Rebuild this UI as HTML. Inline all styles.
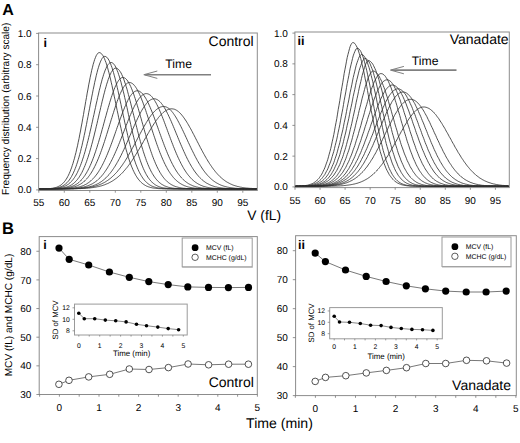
<!DOCTYPE html>
<html><head><meta charset="utf-8"><style>
html,body{margin:0;padding:0;background:#fff;}
svg{display:block;font-family:"Liberation Sans", sans-serif;text-rendering:geometricPrecision;}
</style></head><body>
<svg width="520" height="443" viewBox="0 0 520 443">
<rect width="520" height="443" fill="#fff"/>
<rect x="38.60" y="33.00" width="218.70" height="157.50" stroke="#8c8c8c" stroke-width="1" fill="none"/>
<line x1="36.10" y1="189.90" x2="38.60" y2="189.90" stroke="#777" stroke-width="0.8"/>
<text x="31.60" y="193.40" font-size="10.0" text-anchor="end">0.0</text>
<line x1="36.10" y1="158.60" x2="38.60" y2="158.60" stroke="#777" stroke-width="0.8"/>
<text x="31.60" y="162.10" font-size="10.0" text-anchor="end">0.2</text>
<line x1="36.10" y1="127.30" x2="38.60" y2="127.30" stroke="#777" stroke-width="0.8"/>
<text x="31.60" y="130.80" font-size="10.0" text-anchor="end">0.4</text>
<line x1="36.10" y1="96.00" x2="38.60" y2="96.00" stroke="#777" stroke-width="0.8"/>
<text x="31.60" y="99.50" font-size="10.0" text-anchor="end">0.6</text>
<line x1="36.10" y1="64.70" x2="38.60" y2="64.70" stroke="#777" stroke-width="0.8"/>
<text x="31.60" y="68.20" font-size="10.0" text-anchor="end">0.8</text>
<line x1="36.10" y1="33.40" x2="38.60" y2="33.40" stroke="#777" stroke-width="0.8"/>
<text x="31.60" y="36.90" font-size="10.0" text-anchor="end">1.0</text>
<line x1="38.80" y1="190.50" x2="38.80" y2="192.70" stroke="#777" stroke-width="0.8"/>
<text x="38.80" y="206.30" font-size="10.0" text-anchor="middle">55</text>
<line x1="64.30" y1="190.50" x2="64.30" y2="192.70" stroke="#777" stroke-width="0.8"/>
<text x="64.30" y="206.30" font-size="10.0" text-anchor="middle">60</text>
<line x1="89.80" y1="190.50" x2="89.80" y2="192.70" stroke="#777" stroke-width="0.8"/>
<text x="89.80" y="206.30" font-size="10.0" text-anchor="middle">65</text>
<line x1="115.30" y1="190.50" x2="115.30" y2="192.70" stroke="#777" stroke-width="0.8"/>
<text x="115.30" y="206.30" font-size="10.0" text-anchor="middle">70</text>
<line x1="140.80" y1="190.50" x2="140.80" y2="192.70" stroke="#777" stroke-width="0.8"/>
<text x="140.80" y="206.30" font-size="10.0" text-anchor="middle">75</text>
<line x1="166.30" y1="190.50" x2="166.30" y2="192.70" stroke="#777" stroke-width="0.8"/>
<text x="166.30" y="206.30" font-size="10.0" text-anchor="middle">80</text>
<line x1="191.80" y1="190.50" x2="191.80" y2="192.70" stroke="#777" stroke-width="0.8"/>
<text x="191.80" y="206.30" font-size="10.0" text-anchor="middle">85</text>
<line x1="217.30" y1="190.50" x2="217.30" y2="192.70" stroke="#777" stroke-width="0.8"/>
<text x="217.30" y="206.30" font-size="10.0" text-anchor="middle">90</text>
<line x1="242.80" y1="190.50" x2="242.80" y2="192.70" stroke="#777" stroke-width="0.8"/>
<text x="242.80" y="206.30" font-size="10.0" text-anchor="middle">95</text>
<path d="M39.2,188.9 40.0,188.9 40.7,188.9 41.5,188.9 42.2,188.8 43.0,188.8 43.7,188.8 44.5,188.8 45.2,188.8 46.0,188.8 46.7,188.7 47.5,188.7 48.2,188.6 49.0,188.6 49.7,188.5 50.5,188.5 51.2,188.4 52.0,188.3 52.7,188.2 53.5,188.0 54.2,187.9 55.0,187.7 55.7,187.5 56.5,187.3 57.2,187.0 58.0,186.7 58.7,186.3 59.5,185.9 60.2,185.5 61.0,185.0 61.7,184.4 62.5,183.7 63.2,183.0 64.0,182.2 64.7,181.3 65.5,180.3 66.2,179.2 67.0,178.0 67.7,176.6 68.5,175.2 69.2,173.6 70.0,171.8 70.7,169.9 71.5,167.9 72.2,165.7 73.0,163.3 73.7,160.8 74.5,158.2 75.2,155.3 76.0,152.3 76.7,149.1 77.5,145.8 78.2,142.3 79.0,138.7 79.7,134.9 80.5,131.0 81.2,127.0 82.0,122.9 82.7,118.8 83.5,114.5 84.2,110.2 85.0,105.9 85.7,101.6 86.5,97.4 87.2,93.1 88.0,89.0 88.7,84.9 89.5,81.0 90.2,77.3 91.0,73.7 91.7,70.3 92.5,67.2 93.2,64.3 94.0,61.7 94.7,59.4 95.5,57.4 96.2,55.7 97.0,54.4 97.7,53.4 98.5,52.8 99.2,52.6 100.0,52.7 100.7,53.1 101.5,53.7 102.2,54.6 103.0,55.7 103.7,57.1 104.5,58.7 105.2,60.6 106.0,62.6 106.7,64.9 107.5,67.4 108.2,70.1 109.0,72.9 109.7,75.9 110.5,79.0 111.2,82.2 112.0,85.6 112.7,89.0 113.5,92.5 114.2,96.1 115.0,99.7 115.7,103.3 116.5,107.0 117.2,110.6 118.0,114.2 118.7,117.8 119.5,121.4 120.2,124.9 121.0,128.3 121.7,131.7 122.5,135.0 123.2,138.2 124.0,141.3 124.7,144.3 125.5,147.1 126.2,149.9 127.0,152.6 127.7,155.1 128.4,157.6 129.2,159.9 129.9,162.1 130.7,164.1 131.4,166.1 132.2,167.9 132.9,169.7 133.7,171.3 134.4,172.8 135.2,174.2 135.9,175.6 136.7,176.8 137.4,177.9 138.2,179.0 138.9,179.9 139.7,180.8 140.4,181.6 141.2,182.4 141.9,183.0 142.7,183.7 143.4,184.2 144.2,184.7 144.9,185.2 145.7,185.6 146.4,186.0 147.2,186.3 147.9,186.6 148.7,186.9 149.4,187.1 150.2,187.4 150.9,187.6 151.7,187.7 152.4,187.9 153.2,188.0 153.9,188.1 154.7,188.2 155.4,188.3 156.2,188.4 156.9,188.5 157.7,188.5 158.4,188.6 159.2,188.6 159.9,188.7 160.7,188.7 161.4,188.7 162.2,188.8 162.9,188.8 163.7,188.8 164.4,188.8 165.2,188.8 165.9,188.8 166.7,188.8 167.4,188.9 168.2,188.9 168.9,188.9 169.7,188.9 170.4,188.9 171.2,188.9 171.9,188.9 172.7,188.9 173.4,188.9 174.2,188.9 174.9,188.9 175.7,188.9 176.4,188.9 177.2,188.9 177.9,188.9 178.7,188.9 179.4,188.9 180.2,188.9 180.9,188.9 181.7,188.9 182.4,188.9 183.2,188.9 183.9,188.9 184.7,188.9 185.4,188.9 186.2,188.9 186.9,188.9 187.7,188.9 188.4,188.9 189.2,188.9 189.9,188.9 190.7,188.9 191.4,188.9 192.2,188.9 192.9,188.9 193.7,188.9 194.4,188.9 195.2,188.9 195.9,188.9 196.7,188.9 197.4,188.9 198.2,188.9 198.9,188.9 199.7,188.9 200.4,188.9 201.2,188.9 201.9,188.9 202.7,188.9 203.4,188.9 204.2,188.9 204.9,188.9 205.7,188.9 206.4,188.9 207.2,188.9 207.9,188.9 208.7,188.9 209.4,188.9 210.2,188.9 210.9,188.9 211.7,188.9 212.4,188.9 213.2,188.9 213.9,188.9 214.7,188.9 215.4,188.9 216.2,188.9 216.9,188.9 217.7,188.9 218.4,188.9 219.2,188.9 219.9,188.9 220.7,188.9 221.4,188.9 222.2,188.9 222.9,188.9 223.7,188.9 224.4,188.9 225.2,188.9 225.9,188.9 226.7,188.9 227.4,188.9 228.2,188.9 228.9,188.9 229.7,188.9 230.4,188.9 231.2,188.9 231.9,188.9 232.7,188.9 233.4,188.9 234.2,188.9 234.9,188.9 235.7,188.9 236.4,188.9 237.2,188.9 237.9,188.9 238.7,188.9 239.4,188.9 240.2,188.9 240.9,188.9 241.7,188.9 242.4,188.9 243.2,188.9 243.9,188.9 244.7,188.9 245.4,188.9 246.2,188.9 246.9,188.9 247.7,188.9 248.4,188.9 249.2,188.9 249.9,188.9 250.7,188.9 251.4,188.9 252.2,188.9 252.9,188.9 253.7,188.9 254.4,188.9 255.2,188.9 255.9,188.9 256.7,188.9" stroke="#303030" stroke-width="0.85" fill="none" stroke-linejoin="round"/>
<path d="M39.2,188.9 40.0,188.9 40.7,188.9 41.5,188.9 42.2,188.9 43.0,188.9 43.7,188.9 44.5,188.8 45.2,188.8 46.0,188.8 46.7,188.8 47.5,188.8 48.2,188.8 49.0,188.7 49.7,188.7 50.5,188.7 51.2,188.6 52.0,188.6 52.7,188.5 53.5,188.4 54.2,188.3 55.0,188.2 55.7,188.1 56.5,188.0 57.2,187.9 58.0,187.7 58.7,187.5 59.5,187.3 60.2,187.0 61.0,186.7 61.7,186.4 62.5,186.0 63.2,185.6 64.0,185.1 64.7,184.6 65.5,184.0 66.2,183.4 67.0,182.7 67.7,181.9 68.5,181.0 69.2,180.1 70.0,179.0 70.7,177.8 71.5,176.6 72.2,175.2 73.0,173.7 73.7,172.1 74.5,170.4 75.2,168.5 76.0,166.5 76.7,164.4 77.5,162.1 78.2,159.7 79.0,157.1 79.7,154.4 80.5,151.6 81.2,148.6 82.0,145.5 82.7,142.2 83.5,138.9 84.2,135.4 85.0,131.8 85.7,128.1 86.5,124.4 87.2,120.5 88.0,116.6 88.7,112.7 89.5,108.8 90.2,104.9 91.0,100.9 91.7,97.1 92.5,93.2 93.2,89.5 94.0,85.9 94.7,82.3 95.5,79.0 96.2,75.8 97.0,72.7 97.7,69.9 98.5,67.3 99.2,65.0 100.0,62.9 100.7,61.1 101.5,59.5 102.2,58.3 103.0,57.4 103.7,56.7 104.5,56.4 105.2,56.4 106.0,56.7 106.7,57.2 107.5,58.0 108.2,59.0 109.0,60.3 109.7,61.8 110.5,63.5 111.2,65.5 112.0,67.6 112.7,70.0 113.5,72.5 114.2,75.2 115.0,78.0 115.7,81.0 116.5,84.1 117.2,87.3 118.0,90.7 118.7,94.0 119.5,97.5 120.2,101.0 121.0,104.5 121.7,108.1 122.5,111.6 123.2,115.1 124.0,118.6 124.7,122.1 125.5,125.5 126.2,128.9 127.0,132.2 127.7,135.4 128.4,138.6 129.2,141.6 129.9,144.5 130.7,147.4 131.4,150.1 132.2,152.7 132.9,155.3 133.7,157.7 134.4,159.9 135.2,162.1 135.9,164.2 136.7,166.1 137.4,167.9 138.2,169.7 138.9,171.3 139.7,172.8 140.4,174.2 141.2,175.5 141.9,176.7 142.7,177.9 143.4,178.9 144.2,179.9 144.9,180.8 145.7,181.6 146.4,182.3 147.2,183.0 147.9,183.6 148.7,184.2 149.4,184.7 150.2,185.2 150.9,185.6 151.7,186.0 152.4,186.3 153.2,186.6 153.9,186.9 154.7,187.1 155.4,187.3 156.2,187.5 156.9,187.7 157.7,187.9 158.4,188.0 159.2,188.1 159.9,188.2 160.7,188.3 161.4,188.4 162.2,188.5 162.9,188.5 163.7,188.6 164.4,188.6 165.2,188.7 165.9,188.7 166.7,188.7 167.4,188.8 168.2,188.8 168.9,188.8 169.7,188.8 170.4,188.8 171.2,188.8 171.9,188.8 172.7,188.9 173.4,188.9 174.2,188.9 174.9,188.9 175.7,188.9 176.4,188.9 177.2,188.9 177.9,188.9 178.7,188.9 179.4,188.9 180.2,188.9 180.9,188.9 181.7,188.9 182.4,188.9 183.2,188.9 183.9,188.9 184.7,188.9 185.4,188.9 186.2,188.9 186.9,188.9 187.7,188.9 188.4,188.9 189.2,188.9 189.9,188.9 190.7,188.9 191.4,188.9 192.2,188.9 192.9,188.9 193.7,188.9 194.4,188.9 195.2,188.9 195.9,188.9 196.7,188.9 197.4,188.9 198.2,188.9 198.9,188.9 199.7,188.9 200.4,188.9 201.2,188.9 201.9,188.9 202.7,188.9 203.4,188.9 204.2,188.9 204.9,188.9 205.7,188.9 206.4,188.9 207.2,188.9 207.9,188.9 208.7,188.9 209.4,188.9 210.2,188.9 210.9,188.9 211.7,188.9 212.4,188.9 213.2,188.9 213.9,188.9 214.7,188.9 215.4,188.9 216.2,188.9 216.9,188.9 217.7,188.9 218.4,188.9 219.2,188.9 219.9,188.9 220.7,188.9 221.4,188.9 222.2,188.9 222.9,188.9 223.7,188.9 224.4,188.9 225.2,188.9 225.9,188.9 226.7,188.9 227.4,188.9 228.2,188.9 228.9,188.9 229.7,188.9 230.4,188.9 231.2,188.9 231.9,188.9 232.7,188.9 233.4,188.9 234.2,188.9 234.9,188.9 235.7,188.9 236.4,188.9 237.2,188.9 237.9,188.9 238.7,188.9 239.4,188.9 240.2,188.9 240.9,188.9 241.7,188.9 242.4,188.9 243.2,188.9 243.9,188.9 244.7,188.9 245.4,188.9 246.2,188.9 246.9,188.9 247.7,188.9 248.4,188.9 249.2,188.9 249.9,188.9 250.7,188.9 251.4,188.9 252.2,188.9 252.9,188.9 253.7,188.9 254.4,188.9 255.2,188.9 255.9,188.9 256.7,188.9" stroke="#303030" stroke-width="0.85" fill="none" stroke-linejoin="round"/>
<path d="M39.2,188.9 40.0,188.9 40.7,188.9 41.5,188.9 42.2,188.9 43.0,188.9 43.7,188.9 44.5,188.9 45.2,188.8 46.0,188.8 46.7,188.8 47.5,188.8 48.2,188.8 49.0,188.8 49.7,188.8 50.5,188.7 51.2,188.7 52.0,188.7 52.7,188.6 53.5,188.6 54.2,188.5 55.0,188.5 55.7,188.4 56.5,188.3 57.2,188.2 58.0,188.1 58.7,188.0 59.5,187.8 60.2,187.7 61.0,187.5 61.7,187.3 62.5,187.1 63.2,186.8 64.0,186.6 64.7,186.2 65.5,185.9 66.2,185.5 67.0,185.1 67.7,184.6 68.5,184.1 69.2,183.5 70.0,182.8 70.7,182.1 71.5,181.4 72.2,180.5 73.0,179.6 73.7,178.6 74.5,177.5 75.2,176.4 76.0,175.1 76.7,173.8 77.5,172.3 78.2,170.7 79.0,169.1 79.7,167.3 80.5,165.4 81.2,163.5 82.0,161.3 82.7,159.1 83.5,156.8 84.2,154.4 85.0,151.8 85.7,149.1 86.5,146.4 87.2,143.5 88.0,140.5 88.7,137.5 89.5,134.4 90.2,131.1 91.0,127.9 91.7,124.5 92.5,121.1 93.2,117.7 94.0,114.3 94.7,110.9 95.5,107.4 96.2,104.0 97.0,100.6 97.7,97.3 98.5,94.0 99.2,90.8 100.0,87.8 100.7,84.8 101.5,81.9 102.2,79.2 103.0,76.7 103.7,74.3 104.5,72.1 105.2,70.1 106.0,68.4 106.7,66.8 107.5,65.5 108.2,64.4 109.0,63.5 109.7,62.9 110.5,62.6 111.2,62.5 112.0,62.7 112.7,63.1 113.5,63.7 114.2,64.6 115.0,65.7 115.7,67.1 116.5,68.7 117.2,70.5 118.0,72.5 118.7,74.7 119.5,77.0 120.2,79.6 121.0,82.2 121.7,85.1 122.5,88.0 123.2,91.1 124.0,94.2 124.7,97.5 125.5,100.8 126.2,104.1 127.0,107.5 127.7,110.9 128.4,114.3 129.2,117.7 129.9,121.0 130.7,124.4 131.4,127.7 132.2,130.9 132.9,134.1 133.7,137.2 134.4,140.2 135.2,143.2 135.9,146.0 136.7,148.8 137.4,151.4 138.2,154.0 138.9,156.4 139.7,158.7 140.4,160.9 141.2,163.0 141.9,165.0 142.7,166.9 143.4,168.7 144.2,170.3 144.9,171.9 145.7,173.4 146.4,174.7 147.2,176.0 147.9,177.2 148.7,178.3 149.4,179.3 150.2,180.2 150.9,181.1 151.7,181.8 152.4,182.6 153.2,183.2 153.9,183.8 154.7,184.4 155.4,184.9 156.2,185.3 156.9,185.7 157.7,186.1 158.4,186.4 159.2,186.7 159.9,187.0 160.7,187.2 161.4,187.4 162.2,187.6 162.9,187.8 163.7,187.9 164.4,188.0 165.2,188.1 165.9,188.2 166.7,188.3 167.4,188.4 168.2,188.5 168.9,188.5 169.7,188.6 170.4,188.6 171.2,188.7 171.9,188.7 172.7,188.7 173.4,188.8 174.2,188.8 174.9,188.8 175.7,188.8 176.4,188.8 177.2,188.8 177.9,188.8 178.7,188.9 179.4,188.9 180.2,188.9 180.9,188.9 181.7,188.9 182.4,188.9 183.2,188.9 183.9,188.9 184.7,188.9 185.4,188.9 186.2,188.9 186.9,188.9 187.7,188.9 188.4,188.9 189.2,188.9 189.9,188.9 190.7,188.9 191.4,188.9 192.2,188.9 192.9,188.9 193.7,188.9 194.4,188.9 195.2,188.9 195.9,188.9 196.7,188.9 197.4,188.9 198.2,188.9 198.9,188.9 199.7,188.9 200.4,188.9 201.2,188.9 201.9,188.9 202.7,188.9 203.4,188.9 204.2,188.9 204.9,188.9 205.7,188.9 206.4,188.9 207.2,188.9 207.9,188.9 208.7,188.9 209.4,188.9 210.2,188.9 210.9,188.9 211.7,188.9 212.4,188.9 213.2,188.9 213.9,188.9 214.7,188.9 215.4,188.9 216.2,188.9 216.9,188.9 217.7,188.9 218.4,188.9 219.2,188.9 219.9,188.9 220.7,188.9 221.4,188.9 222.2,188.9 222.9,188.9 223.7,188.9 224.4,188.9 225.2,188.9 225.9,188.9 226.7,188.9 227.4,188.9 228.2,188.9 228.9,188.9 229.7,188.9 230.4,188.9 231.2,188.9 231.9,188.9 232.7,188.9 233.4,188.9 234.2,188.9 234.9,188.9 235.7,188.9 236.4,188.9 237.2,188.9 237.9,188.9 238.7,188.9 239.4,188.9 240.2,188.9 240.9,188.9 241.7,188.9 242.4,188.9 243.2,188.9 243.9,188.9 244.7,188.9 245.4,188.9 246.2,188.9 246.9,188.9 247.7,188.9 248.4,188.9 249.2,188.9 249.9,188.9 250.7,188.9 251.4,188.9 252.2,188.9 252.9,188.9 253.7,188.9 254.4,188.9 255.2,188.9 255.9,188.9 256.7,188.9" stroke="#303030" stroke-width="0.85" fill="none" stroke-linejoin="round"/>
<path d="M39.2,188.9 40.0,188.9 40.7,188.9 41.5,188.9 42.2,188.9 43.0,188.9 43.7,188.9 44.5,188.9 45.2,188.9 46.0,188.9 46.7,188.9 47.5,188.9 48.2,188.9 49.0,188.8 49.7,188.8 50.5,188.8 51.2,188.8 52.0,188.8 52.7,188.8 53.5,188.8 54.2,188.7 55.0,188.7 55.7,188.7 56.5,188.6 57.2,188.6 58.0,188.5 58.7,188.5 59.5,188.4 60.2,188.3 61.0,188.2 61.7,188.1 62.5,188.0 63.2,187.9 64.0,187.7 64.7,187.6 65.5,187.4 66.2,187.2 67.0,187.0 67.7,186.7 68.5,186.4 69.2,186.1 70.0,185.7 70.7,185.3 71.5,184.9 72.2,184.4 73.0,183.9 73.7,183.3 74.5,182.6 75.2,181.9 76.0,181.2 76.7,180.3 77.5,179.4 78.2,178.4 79.0,177.4 79.7,176.2 80.5,175.0 81.2,173.7 82.0,172.3 82.7,170.8 83.5,169.1 84.2,167.4 85.0,165.6 85.7,163.7 86.5,161.7 87.2,159.6 88.0,157.3 88.7,155.0 89.5,152.6 90.2,150.0 91.0,147.4 91.7,144.7 92.5,141.9 93.2,139.0 94.0,136.0 94.7,133.0 95.5,129.9 96.2,126.8 97.0,123.6 97.7,120.4 98.5,117.1 99.2,113.9 100.0,110.7 100.7,107.5 101.5,104.3 102.2,101.2 103.0,98.1 103.7,95.1 104.5,92.2 105.2,89.4 106.0,86.8 106.7,84.2 107.5,81.8 108.2,79.6 109.0,77.5 109.7,75.6 110.5,73.9 111.2,72.4 112.0,71.2 112.7,70.1 113.5,69.2 114.2,68.6 115.0,68.3 115.7,68.1 116.5,68.2 117.2,68.5 118.0,69.0 118.7,69.7 119.5,70.6 120.2,71.7 121.0,72.9 121.7,74.4 122.5,76.1 123.2,77.9 124.0,79.9 124.7,82.0 125.5,84.3 126.2,86.7 127.0,89.2 127.7,91.8 128.4,94.5 129.2,97.3 129.9,100.2 130.7,103.1 131.4,106.1 132.2,109.1 132.9,112.2 133.7,115.2 134.4,118.3 135.2,121.3 135.9,124.3 136.7,127.3 137.4,130.3 138.2,133.2 138.9,136.1 139.7,138.9 140.4,141.6 141.2,144.3 141.9,146.9 142.7,149.4 143.4,151.8 144.2,154.1 144.9,156.3 145.7,158.5 146.4,160.6 147.2,162.5 147.9,164.4 148.7,166.2 149.4,167.9 150.2,169.4 150.9,171.0 151.7,172.4 152.4,173.7 153.2,174.9 153.9,176.1 154.7,177.2 155.4,178.2 156.2,179.2 156.9,180.0 157.7,180.9 158.4,181.6 159.2,182.3 159.9,182.9 160.7,183.5 161.4,184.1 162.2,184.5 162.9,185.0 163.7,185.4 164.4,185.8 165.2,186.1 165.9,186.4 166.7,186.7 167.4,186.9 168.2,187.2 168.9,187.4 169.7,187.5 170.4,187.7 171.2,187.8 171.9,188.0 172.7,188.1 173.4,188.2 174.2,188.3 174.9,188.4 175.7,188.4 176.4,188.5 177.2,188.5 177.9,188.6 178.7,188.6 179.4,188.7 180.2,188.7 180.9,188.7 181.7,188.8 182.4,188.8 183.2,188.8 183.9,188.8 184.7,188.8 185.4,188.8 186.2,188.8 186.9,188.9 187.7,188.9 188.4,188.9 189.2,188.9 189.9,188.9 190.7,188.9 191.4,188.9 192.2,188.9 192.9,188.9 193.7,188.9 194.4,188.9 195.2,188.9 195.9,188.9 196.7,188.9 197.4,188.9 198.2,188.9 198.9,188.9 199.7,188.9 200.4,188.9 201.2,188.9 201.9,188.9 202.7,188.9 203.4,188.9 204.2,188.9 204.9,188.9 205.7,188.9 206.4,188.9 207.2,188.9 207.9,188.9 208.7,188.9 209.4,188.9 210.2,188.9 210.9,188.9 211.7,188.9 212.4,188.9 213.2,188.9 213.9,188.9 214.7,188.9 215.4,188.9 216.2,188.9 216.9,188.9 217.7,188.9 218.4,188.9 219.2,188.9 219.9,188.9 220.7,188.9 221.4,188.9 222.2,188.9 222.9,188.9 223.7,188.9 224.4,188.9 225.2,188.9 225.9,188.9 226.7,188.9 227.4,188.9 228.2,188.9 228.9,188.9 229.7,188.9 230.4,188.9 231.2,188.9 231.9,188.9 232.7,188.9 233.4,188.9 234.2,188.9 234.9,188.9 235.7,188.9 236.4,188.9 237.2,188.9 237.9,188.9 238.7,188.9 239.4,188.9 240.2,188.9 240.9,188.9 241.7,188.9 242.4,188.9 243.2,188.9 243.9,188.9 244.7,188.9 245.4,188.9 246.2,188.9 246.9,188.9 247.7,188.9 248.4,188.9 249.2,188.9 249.9,188.9 250.7,188.9 251.4,188.9 252.2,188.9 252.9,188.9 253.7,188.9 254.4,188.9 255.2,188.9 255.9,188.9 256.7,188.9" stroke="#303030" stroke-width="0.85" fill="none" stroke-linejoin="round"/>
<path d="M39.2,188.9 40.0,188.9 40.7,188.9 41.5,188.9 42.2,188.9 43.0,188.9 43.7,188.9 44.5,188.9 45.2,188.9 46.0,188.9 46.7,188.9 47.5,188.9 48.2,188.9 49.0,188.9 49.7,188.9 50.5,188.8 51.2,188.8 52.0,188.8 52.7,188.8 53.5,188.8 54.2,188.8 55.0,188.8 55.7,188.7 56.5,188.7 57.2,188.7 58.0,188.7 58.7,188.6 59.5,188.6 60.2,188.5 61.0,188.5 61.7,188.4 62.5,188.4 63.2,188.3 64.0,188.2 64.7,188.1 65.5,188.0 66.2,187.9 67.0,187.7 67.7,187.6 68.5,187.4 69.2,187.3 70.0,187.0 70.7,186.8 71.5,186.6 72.2,186.3 73.0,186.0 73.7,185.7 74.5,185.3 75.2,184.9 76.0,184.5 76.7,184.0 77.5,183.5 78.2,182.9 79.0,182.3 79.7,181.6 80.5,180.9 81.2,180.1 82.0,179.3 82.7,178.4 83.5,177.4 84.2,176.4 85.0,175.3 85.7,174.1 86.5,172.9 87.2,171.6 88.0,170.2 88.7,168.7 89.5,167.2 90.2,165.5 91.0,163.8 91.7,162.0 92.5,160.2 93.2,158.2 94.0,156.2 94.7,154.0 95.5,151.8 96.2,149.6 97.0,147.2 97.7,144.8 98.5,142.4 99.2,139.9 100.0,137.3 100.7,134.7 101.5,132.0 102.2,129.3 103.0,126.6 103.7,123.9 104.5,121.1 105.2,118.4 106.0,115.7 106.7,113.0 107.5,110.3 108.2,107.7 109.0,105.1 109.7,102.5 110.5,100.1 111.2,97.7 112.0,95.4 112.7,93.2 113.5,91.1 114.2,89.2 115.0,87.3 115.7,85.6 116.5,84.1 117.2,82.7 118.0,81.4 118.7,80.3 119.5,79.4 120.2,78.7 121.0,78.1 121.7,77.7 122.5,77.5 123.2,77.5 124.0,77.7 124.7,78.0 125.5,78.5 126.2,79.2 127.0,80.0 127.7,81.0 128.4,82.2 129.2,83.5 129.9,84.9 130.7,86.5 131.4,88.2 132.2,90.1 132.9,92.0 133.7,94.1 134.4,96.3 135.2,98.6 135.9,100.9 136.7,103.3 137.4,105.8 138.2,108.3 138.9,110.9 139.7,113.5 140.4,116.2 141.2,118.8 141.9,121.5 142.7,124.2 143.4,126.8 144.2,129.5 144.9,132.1 145.7,134.7 146.4,137.2 147.2,139.7 147.9,142.2 148.7,144.6 149.4,146.9 150.2,149.2 150.9,151.4 151.7,153.6 152.4,155.7 153.2,157.7 153.9,159.6 154.7,161.4 155.4,163.2 156.2,164.9 156.9,166.5 157.7,168.1 158.4,169.5 159.2,170.9 159.9,172.3 160.7,173.5 161.4,174.7 162.2,175.8 162.9,176.8 163.7,177.8 164.4,178.7 165.2,179.6 165.9,180.3 166.7,181.1 167.4,181.8 168.2,182.4 168.9,183.0 169.7,183.5 170.4,184.0 171.2,184.5 171.9,184.9 172.7,185.3 173.4,185.7 174.2,186.0 174.9,186.3 175.7,186.6 176.4,186.8 177.2,187.0 177.9,187.2 178.7,187.4 179.4,187.6 180.2,187.7 180.9,187.9 181.7,188.0 182.4,188.1 183.2,188.2 183.9,188.3 184.7,188.3 185.4,188.4 186.2,188.5 186.9,188.5 187.7,188.6 188.4,188.6 189.2,188.6 189.9,188.7 190.7,188.7 191.4,188.7 192.2,188.8 192.9,188.8 193.7,188.8 194.4,188.8 195.2,188.8 195.9,188.8 196.7,188.8 197.4,188.8 198.2,188.9 198.9,188.9 199.7,188.9 200.4,188.9 201.2,188.9 201.9,188.9 202.7,188.9 203.4,188.9 204.2,188.9 204.9,188.9 205.7,188.9 206.4,188.9 207.2,188.9 207.9,188.9 208.7,188.9 209.4,188.9 210.2,188.9 210.9,188.9 211.7,188.9 212.4,188.9 213.2,188.9 213.9,188.9 214.7,188.9 215.4,188.9 216.2,188.9 216.9,188.9 217.7,188.9 218.4,188.9 219.2,188.9 219.9,188.9 220.7,188.9 221.4,188.9 222.2,188.9 222.9,188.9 223.7,188.9 224.4,188.9 225.2,188.9 225.9,188.9 226.7,188.9 227.4,188.9 228.2,188.9 228.9,188.9 229.7,188.9 230.4,188.9 231.2,188.9 231.9,188.9 232.7,188.9 233.4,188.9 234.2,188.9 234.9,188.9 235.7,188.9 236.4,188.9 237.2,188.9 237.9,188.9 238.7,188.9 239.4,188.9 240.2,188.9 240.9,188.9 241.7,188.9 242.4,188.9 243.2,188.9 243.9,188.9 244.7,188.9 245.4,188.9 246.2,188.9 246.9,188.9 247.7,188.9 248.4,188.9 249.2,188.9 249.9,188.9 250.7,188.9 251.4,188.9 252.2,188.9 252.9,188.9 253.7,188.9 254.4,188.9 255.2,188.9 255.9,188.9 256.7,188.9" stroke="#303030" stroke-width="0.85" fill="none" stroke-linejoin="round"/>
<path d="M39.2,188.9 40.0,188.9 40.7,188.9 41.5,188.9 42.2,188.9 43.0,188.9 43.7,188.9 44.5,188.9 45.2,188.9 46.0,188.9 46.7,188.9 47.5,188.9 48.2,188.9 49.0,188.9 49.7,188.9 50.5,188.9 51.2,188.9 52.0,188.9 52.7,188.8 53.5,188.8 54.2,188.8 55.0,188.8 55.7,188.8 56.5,188.8 57.2,188.8 58.0,188.8 58.7,188.7 59.5,188.7 60.2,188.7 61.0,188.7 61.7,188.6 62.5,188.6 63.2,188.5 64.0,188.5 64.7,188.4 65.5,188.4 66.2,188.3 67.0,188.2 67.7,188.1 68.5,188.0 69.2,187.9 70.0,187.8 70.7,187.7 71.5,187.5 72.2,187.4 73.0,187.2 73.7,187.0 74.5,186.8 75.2,186.5 76.0,186.3 76.7,186.0 77.5,185.7 78.2,185.3 79.0,184.9 79.7,184.5 80.5,184.1 81.2,183.6 82.0,183.1 82.7,182.6 83.5,182.0 84.2,181.3 85.0,180.7 85.7,179.9 86.5,179.1 87.2,178.3 88.0,177.4 88.7,176.4 89.5,175.4 90.2,174.4 91.0,173.2 91.7,172.0 92.5,170.8 93.2,169.4 94.0,168.0 94.7,166.5 95.5,165.0 96.2,163.4 97.0,161.7 97.7,160.0 98.5,158.2 99.2,156.3 100.0,154.4 100.7,152.4 101.5,150.3 102.2,148.2 103.0,146.0 103.7,143.8 104.5,141.5 105.2,139.2 106.0,136.8 106.7,134.4 107.5,132.0 108.2,129.6 109.0,127.1 109.7,124.7 110.5,122.2 111.2,119.8 112.0,117.4 112.7,114.9 113.5,112.6 114.2,110.2 115.0,107.9 115.7,105.6 116.5,103.5 117.2,101.3 118.0,99.3 118.7,97.3 119.5,95.5 120.2,93.7 121.0,92.1 121.7,90.5 122.5,89.1 123.2,87.8 124.0,86.6 124.7,85.6 125.5,84.7 126.2,84.0 127.0,83.4 127.7,82.9 128.4,82.7 129.2,82.5 129.9,82.5 130.7,82.7 131.4,83.0 132.2,83.4 132.9,84.0 133.7,84.6 134.4,85.5 135.2,86.4 135.9,87.5 136.7,88.7 137.4,90.0 138.2,91.4 138.9,92.9 139.7,94.6 140.4,96.3 141.2,98.1 141.9,100.0 142.7,101.9 143.4,103.9 144.2,106.0 144.9,108.2 145.7,110.3 146.4,112.6 147.2,114.8 147.9,117.1 148.7,119.4 149.4,121.7 150.2,124.1 150.9,126.4 151.7,128.7 152.4,131.0 153.2,133.3 153.9,135.6 154.7,137.8 155.4,140.0 156.2,142.2 156.9,144.4 157.7,146.5 158.4,148.5 159.2,150.5 159.9,152.5 160.7,154.4 161.4,156.2 162.2,158.0 162.9,159.7 163.7,161.4 164.4,163.0 165.2,164.5 165.9,166.0 166.7,167.4 167.4,168.8 168.2,170.1 168.9,171.3 169.7,172.5 170.4,173.6 171.2,174.6 171.9,175.6 172.7,176.6 173.4,177.5 174.2,178.3 174.9,179.1 175.7,179.9 176.4,180.6 177.2,181.2 177.9,181.8 178.7,182.4 179.4,182.9 180.2,183.4 180.9,183.9 181.7,184.3 182.4,184.7 183.2,185.1 183.9,185.4 184.7,185.8 185.4,186.0 186.2,186.3 186.9,186.6 187.7,186.8 188.4,187.0 189.2,187.2 189.9,187.3 190.7,187.5 191.4,187.6 192.2,187.8 192.9,187.9 193.7,188.0 194.4,188.1 195.2,188.2 195.9,188.3 196.7,188.3 197.4,188.4 198.2,188.4 198.9,188.5 199.7,188.5 200.4,188.6 201.2,188.6 201.9,188.7 202.7,188.7 203.4,188.7 204.2,188.7 204.9,188.8 205.7,188.8 206.4,188.8 207.2,188.8 207.9,188.8 208.7,188.8 209.4,188.8 210.2,188.8 210.9,188.9 211.7,188.9 212.4,188.9 213.2,188.9 213.9,188.9 214.7,188.9 215.4,188.9 216.2,188.9 216.9,188.9 217.7,188.9 218.4,188.9 219.2,188.9 219.9,188.9 220.7,188.9 221.4,188.9 222.2,188.9 222.9,188.9 223.7,188.9 224.4,188.9 225.2,188.9 225.9,188.9 226.7,188.9 227.4,188.9 228.2,188.9 228.9,188.9 229.7,188.9 230.4,188.9 231.2,188.9 231.9,188.9 232.7,188.9 233.4,188.9 234.2,188.9 234.9,188.9 235.7,188.9 236.4,188.9 237.2,188.9 237.9,188.9 238.7,188.9 239.4,188.9 240.2,188.9 240.9,188.9 241.7,188.9 242.4,188.9 243.2,188.9 243.9,188.9 244.7,188.9 245.4,188.9 246.2,188.9 246.9,188.9 247.7,188.9 248.4,188.9 249.2,188.9 249.9,188.9 250.7,188.9 251.4,188.9 252.2,188.9 252.9,188.9 253.7,188.9 254.4,188.9 255.2,188.9 255.9,188.9 256.7,188.9" stroke="#303030" stroke-width="0.85" fill="none" stroke-linejoin="round"/>
<path d="M39.2,188.9 40.0,188.9 40.7,188.9 41.5,188.9 42.2,188.9 43.0,188.9 43.7,188.9 44.5,188.9 45.2,188.9 46.0,188.9 46.7,188.9 47.5,188.9 48.2,188.9 49.0,188.9 49.7,188.9 50.5,188.9 51.2,188.9 52.0,188.9 52.7,188.9 53.5,188.9 54.2,188.9 55.0,188.9 55.7,188.9 56.5,188.8 57.2,188.8 58.0,188.8 58.7,188.8 59.5,188.8 60.2,188.8 61.0,188.8 61.7,188.8 62.5,188.7 63.2,188.7 64.0,188.7 64.7,188.7 65.5,188.6 66.2,188.6 67.0,188.6 67.7,188.5 68.5,188.5 69.2,188.4 70.0,188.4 70.7,188.3 71.5,188.2 72.2,188.2 73.0,188.1 73.7,188.0 74.5,187.9 75.2,187.8 76.0,187.6 76.7,187.5 77.5,187.3 78.2,187.2 79.0,187.0 79.7,186.8 80.5,186.6 81.2,186.3 82.0,186.1 82.7,185.8 83.5,185.5 84.2,185.1 85.0,184.8 85.7,184.4 86.5,184.0 87.2,183.5 88.0,183.0 88.7,182.5 89.5,181.9 90.2,181.3 91.0,180.7 91.7,180.0 92.5,179.3 93.2,178.5 94.0,177.7 94.7,176.9 95.5,175.9 96.2,175.0 97.0,174.0 97.7,172.9 98.5,171.8 99.2,170.6 100.0,169.3 100.7,168.0 101.5,166.7 102.2,165.3 103.0,163.8 103.7,162.3 104.5,160.7 105.2,159.1 106.0,157.4 106.7,155.7 107.5,153.9 108.2,152.0 109.0,150.2 109.7,148.2 110.5,146.3 111.2,144.3 112.0,142.2 112.7,140.2 113.5,138.1 114.2,136.0 115.0,133.8 115.7,131.7 116.5,129.5 117.2,127.4 118.0,125.3 118.7,123.1 119.5,121.0 120.2,118.9 121.0,116.9 121.7,114.9 122.5,112.9 123.2,110.9 124.0,109.1 124.7,107.2 125.5,105.5 126.2,103.8 127.0,102.2 127.7,100.7 128.4,99.3 129.2,98.0 129.9,96.7 130.7,95.6 131.4,94.6 132.2,93.7 132.9,92.9 133.7,92.3 134.4,91.7 135.2,91.3 135.9,91.0 136.7,90.8 137.4,90.8 138.2,90.9 138.9,91.1 139.7,91.4 140.4,91.9 141.2,92.4 141.9,93.1 142.7,93.9 143.4,94.8 144.2,95.9 144.9,97.0 145.7,98.2 146.4,99.5 147.2,100.9 147.9,102.4 148.7,104.0 149.4,105.7 150.2,107.4 150.9,109.2 151.7,111.0 152.4,112.9 153.2,114.9 153.9,116.8 154.7,118.9 155.4,120.9 156.2,123.0 156.9,125.1 157.7,127.2 158.4,129.3 159.2,131.4 159.9,133.5 160.7,135.6 161.4,137.6 162.2,139.7 162.9,141.7 163.7,143.7 164.4,145.7 165.2,147.6 165.9,149.5 166.7,151.4 167.4,153.2 168.2,155.0 168.9,156.7 169.7,158.4 170.4,160.0 171.2,161.6 171.9,163.1 172.7,164.6 173.4,166.0 174.2,167.3 174.9,168.6 175.7,169.9 176.4,171.1 177.2,172.2 177.9,173.3 178.7,174.3 179.4,175.3 180.2,176.2 180.9,177.1 181.7,178.0 182.4,178.7 183.2,179.5 183.9,180.2 184.7,180.8 185.4,181.5 186.2,182.0 186.9,182.6 187.7,183.1 188.4,183.6 189.2,184.0 189.9,184.4 190.7,184.8 191.4,185.1 192.2,185.5 192.9,185.8 193.7,186.1 194.4,186.3 195.2,186.5 195.9,186.8 196.7,187.0 197.4,187.1 198.2,187.3 198.9,187.5 199.7,187.6 200.4,187.7 201.2,187.9 201.9,188.0 202.7,188.1 203.4,188.1 204.2,188.2 204.9,188.3 205.7,188.4 206.4,188.4 207.2,188.5 207.9,188.5 208.7,188.6 209.4,188.6 210.2,188.6 210.9,188.7 211.7,188.7 212.4,188.7 213.2,188.7 213.9,188.8 214.7,188.8 215.4,188.8 216.2,188.8 216.9,188.8 217.7,188.8 218.4,188.8 219.2,188.8 219.9,188.9 220.7,188.9 221.4,188.9 222.2,188.9 222.9,188.9 223.7,188.9 224.4,188.9 225.2,188.9 225.9,188.9 226.7,188.9 227.4,188.9 228.2,188.9 228.9,188.9 229.7,188.9 230.4,188.9 231.2,188.9 231.9,188.9 232.7,188.9 233.4,188.9 234.2,188.9 234.9,188.9 235.7,188.9 236.4,188.9 237.2,188.9 237.9,188.9 238.7,188.9 239.4,188.9 240.2,188.9 240.9,188.9 241.7,188.9 242.4,188.9 243.2,188.9 243.9,188.9 244.7,188.9 245.4,188.9 246.2,188.9 246.9,188.9 247.7,188.9 248.4,188.9 249.2,188.9 249.9,188.9 250.7,188.9 251.4,188.9 252.2,188.9 252.9,188.9 253.7,188.9 254.4,188.9 255.2,188.9 255.9,188.9 256.7,188.9" stroke="#303030" stroke-width="0.85" fill="none" stroke-linejoin="round"/>
<path d="M39.2,188.9 40.0,188.9 40.7,188.9 41.5,188.9 42.2,188.9 43.0,188.9 43.7,188.9 44.5,188.9 45.2,188.9 46.0,188.9 46.7,188.9 47.5,188.9 48.2,188.9 49.0,188.9 49.7,188.9 50.5,188.9 51.2,188.9 52.0,188.9 52.7,188.9 53.5,188.9 54.2,188.9 55.0,188.9 55.7,188.9 56.5,188.9 57.2,188.9 58.0,188.9 58.7,188.9 59.5,188.8 60.2,188.8 61.0,188.8 61.7,188.8 62.5,188.8 63.2,188.8 64.0,188.8 64.7,188.8 65.5,188.8 66.2,188.7 67.0,188.7 67.7,188.7 68.5,188.7 69.2,188.6 70.0,188.6 70.7,188.6 71.5,188.5 72.2,188.5 73.0,188.5 73.7,188.4 74.5,188.4 75.2,188.3 76.0,188.2 76.7,188.1 77.5,188.1 78.2,188.0 79.0,187.9 79.7,187.8 80.5,187.7 81.2,187.5 82.0,187.4 82.7,187.2 83.5,187.1 84.2,186.9 85.0,186.7 85.7,186.5 86.5,186.2 87.2,186.0 88.0,185.7 88.7,185.4 89.5,185.1 90.2,184.8 91.0,184.4 91.7,184.1 92.5,183.7 93.2,183.2 94.0,182.8 94.7,182.3 95.5,181.7 96.2,181.2 97.0,180.6 97.7,179.9 98.5,179.3 99.2,178.5 100.0,177.8 100.7,177.0 101.5,176.2 102.2,175.3 103.0,174.4 103.7,173.4 104.5,172.4 105.2,171.3 106.0,170.2 106.7,169.1 107.5,167.9 108.2,166.6 109.0,165.3 109.7,164.0 110.5,162.6 111.2,161.2 112.0,159.7 112.7,158.2 113.5,156.6 114.2,155.0 115.0,153.3 115.7,151.6 116.5,149.9 117.2,148.2 118.0,146.4 118.7,144.5 119.5,142.7 120.2,140.8 121.0,138.9 121.7,137.0 122.5,135.1 123.2,133.2 124.0,131.2 124.7,129.3 125.5,127.4 126.2,125.4 127.0,123.5 127.7,121.6 128.4,119.8 129.2,117.9 129.9,116.1 130.7,114.4 131.4,112.6 132.2,110.9 132.9,109.3 133.7,107.7 134.4,106.2 135.2,104.8 135.9,103.4 136.7,102.1 137.4,100.9 138.2,99.8 138.9,98.7 139.7,97.8 140.4,96.9 141.2,96.1 141.9,95.5 142.7,94.9 143.4,94.4 144.2,94.1 144.9,93.8 145.7,93.6 146.4,93.6 147.2,93.7 147.9,93.9 148.7,94.2 149.4,94.6 150.2,95.1 150.9,95.7 151.7,96.5 152.4,97.4 153.2,98.3 153.9,99.4 154.7,100.6 155.4,101.8 156.2,103.2 156.9,104.6 157.7,106.1 158.4,107.7 159.2,109.3 159.9,111.1 160.7,112.8 161.4,114.7 162.2,116.5 162.9,118.4 163.7,120.4 164.4,122.3 165.2,124.3 165.9,126.4 166.7,128.4 167.4,130.4 168.2,132.5 168.9,134.5 169.7,136.5 170.4,138.5 171.2,140.5 171.9,142.5 172.7,144.4 173.4,146.4 174.2,148.2 174.9,150.1 175.7,151.9 176.4,153.7 177.2,155.4 177.9,157.1 178.7,158.7 179.4,160.3 180.2,161.8 180.9,163.3 181.7,164.8 182.4,166.1 183.2,167.5 183.9,168.8 184.7,170.0 185.4,171.1 186.2,172.3 186.9,173.3 187.7,174.4 188.4,175.3 189.2,176.2 189.9,177.1 190.7,177.9 191.4,178.7 192.2,179.5 192.9,180.2 193.7,180.8 194.4,181.4 195.2,182.0 195.9,182.5 196.7,183.0 197.4,183.5 198.2,183.9 198.9,184.4 199.7,184.7 200.4,185.1 201.2,185.4 201.9,185.7 202.7,186.0 203.4,186.3 204.2,186.5 204.9,186.7 205.7,186.9 206.4,187.1 207.2,187.3 207.9,187.4 208.7,187.6 209.4,187.7 210.2,187.8 210.9,187.9 211.7,188.0 212.4,188.1 213.2,188.2 213.9,188.3 214.7,188.3 215.4,188.4 216.2,188.5 216.9,188.5 217.7,188.5 218.4,188.6 219.2,188.6 219.9,188.7 220.7,188.7 221.4,188.7 222.2,188.7 222.9,188.8 223.7,188.8 224.4,188.8 225.2,188.8 225.9,188.8 226.7,188.8 227.4,188.8 228.2,188.8 228.9,188.8 229.7,188.9 230.4,188.9 231.2,188.9 231.9,188.9 232.7,188.9 233.4,188.9 234.2,188.9 234.9,188.9 235.7,188.9 236.4,188.9 237.2,188.9 237.9,188.9 238.7,188.9 239.4,188.9 240.2,188.9 240.9,188.9 241.7,188.9 242.4,188.9 243.2,188.9 243.9,188.9 244.7,188.9 245.4,188.9 246.2,188.9 246.9,188.9 247.7,188.9 248.4,188.9 249.2,188.9 249.9,188.9 250.7,188.9 251.4,188.9 252.2,188.9 252.9,188.9 253.7,188.9 254.4,188.9 255.2,188.9 255.9,188.9 256.7,188.9" stroke="#303030" stroke-width="0.85" fill="none" stroke-linejoin="round"/>
<path d="M39.2,188.9 40.0,188.9 40.7,188.9 41.5,188.9 42.2,188.9 43.0,188.9 43.7,188.9 44.5,188.9 45.2,188.9 46.0,188.9 46.7,188.9 47.5,188.9 48.2,188.9 49.0,188.9 49.7,188.9 50.5,188.9 51.2,188.9 52.0,188.9 52.7,188.9 53.5,188.9 54.2,188.9 55.0,188.9 55.7,188.9 56.5,188.9 57.2,188.9 58.0,188.9 58.7,188.9 59.5,188.9 60.2,188.9 61.0,188.9 61.7,188.9 62.5,188.9 63.2,188.8 64.0,188.8 64.7,188.8 65.5,188.8 66.2,188.8 67.0,188.8 67.7,188.8 68.5,188.8 69.2,188.8 70.0,188.7 70.7,188.7 71.5,188.7 72.2,188.7 73.0,188.7 73.7,188.6 74.5,188.6 75.2,188.6 76.0,188.5 76.7,188.5 77.5,188.4 78.2,188.4 79.0,188.3 79.7,188.3 80.5,188.2 81.2,188.1 82.0,188.1 82.7,188.0 83.5,187.9 84.2,187.8 85.0,187.7 85.7,187.6 86.5,187.4 87.2,187.3 88.0,187.1 88.7,187.0 89.5,186.8 90.2,186.6 91.0,186.4 91.7,186.2 92.5,186.0 93.2,185.7 94.0,185.4 94.7,185.1 95.5,184.8 96.2,184.5 97.0,184.1 97.7,183.8 98.5,183.4 99.2,182.9 100.0,182.5 100.7,182.0 101.5,181.5 102.2,180.9 103.0,180.4 103.7,179.8 104.5,179.1 105.2,178.5 106.0,177.8 106.7,177.0 107.5,176.2 108.2,175.4 109.0,174.6 109.7,173.7 110.5,172.7 111.2,171.8 112.0,170.8 112.7,169.7 113.5,168.6 114.2,167.5 115.0,166.3 115.7,165.1 116.5,163.8 117.2,162.5 118.0,161.2 118.7,159.8 119.5,158.4 120.2,157.0 121.0,155.5 121.7,154.0 122.5,152.4 123.2,150.9 124.0,149.3 124.7,147.6 125.5,146.0 126.2,144.3 127.0,142.6 127.7,140.9 128.4,139.2 129.2,137.5 129.9,135.8 130.7,134.0 131.4,132.3 132.2,130.6 132.9,128.8 133.7,127.1 134.4,125.4 135.2,123.7 135.9,122.1 136.7,120.5 137.4,118.9 138.2,117.3 138.9,115.8 139.7,114.3 140.4,112.9 141.2,111.5 141.9,110.2 142.7,108.9 143.4,107.7 144.2,106.5 144.9,105.5 145.7,104.5 146.4,103.5 147.2,102.7 147.9,101.9 148.7,101.2 149.4,100.6 150.2,100.1 150.9,99.7 151.7,99.3 152.4,99.0 153.2,98.9 153.9,98.8 154.7,98.8 155.4,98.9 156.2,99.2 156.9,99.5 157.7,99.9 158.4,100.4 159.2,101.0 159.9,101.7 160.7,102.5 161.4,103.4 162.2,104.4 162.9,105.4 163.7,106.5 164.4,107.8 165.2,109.0 165.9,110.4 166.7,111.8 167.4,113.3 168.2,114.8 168.9,116.4 169.7,118.0 170.4,119.6 171.2,121.3 171.9,123.1 172.7,124.8 173.4,126.6 174.2,128.4 174.9,130.2 175.7,132.1 176.4,133.9 177.2,135.7 177.9,137.5 178.7,139.4 179.4,141.2 180.2,143.0 180.9,144.7 181.7,146.5 182.4,148.2 183.2,149.9 183.9,151.6 184.7,153.2 185.4,154.9 186.2,156.4 186.9,158.0 187.7,159.5 188.4,160.9 189.2,162.3 189.9,163.7 190.7,165.0 191.4,166.3 192.2,167.5 192.9,168.7 193.7,169.9 194.4,171.0 195.2,172.0 195.9,173.0 196.7,174.0 197.4,174.9 198.2,175.8 198.9,176.7 199.7,177.5 200.4,178.2 201.2,178.9 201.9,179.6 202.7,180.3 203.4,180.9 204.2,181.4 204.9,182.0 205.7,182.5 206.4,183.0 207.2,183.4 207.9,183.8 208.7,184.2 209.4,184.6 210.2,184.9 210.9,185.3 211.7,185.6 212.4,185.8 213.2,186.1 213.9,186.3 214.7,186.6 215.4,186.8 216.2,186.9 216.9,187.1 217.7,187.3 218.4,187.4 219.2,187.6 219.9,187.7 220.7,187.8 221.4,187.9 222.2,188.0 222.9,188.1 223.7,188.2 224.4,188.2 225.2,188.3 225.9,188.4 226.7,188.4 227.4,188.5 228.2,188.5 228.9,188.6 229.7,188.6 230.4,188.6 231.2,188.7 231.9,188.7 232.7,188.7 233.4,188.7 234.2,188.7 234.9,188.8 235.7,188.8 236.4,188.8 237.2,188.8 237.9,188.8 238.7,188.8 239.4,188.8 240.2,188.8 240.9,188.9 241.7,188.9 242.4,188.9 243.2,188.9 243.9,188.9 244.7,188.9 245.4,188.9 246.2,188.9 246.9,188.9 247.7,188.9 248.4,188.9 249.2,188.9 249.9,188.9 250.7,188.9 251.4,188.9 252.2,188.9 252.9,188.9 253.7,188.9 254.4,188.9 255.2,188.9 255.9,188.9 256.7,188.9" stroke="#303030" stroke-width="0.85" fill="none" stroke-linejoin="round"/>
<path d="M39.2,188.9 40.0,188.9 40.7,188.9 41.5,188.9 42.2,188.9 43.0,188.9 43.7,188.9 44.5,188.9 45.2,188.9 46.0,188.9 46.7,188.9 47.5,188.9 48.2,188.9 49.0,188.9 49.7,188.9 50.5,188.9 51.2,188.9 52.0,188.9 52.7,188.9 53.5,188.9 54.2,188.9 55.0,188.9 55.7,188.9 56.5,188.9 57.2,188.9 58.0,188.9 58.7,188.9 59.5,188.9 60.2,188.9 61.0,188.9 61.7,188.9 62.5,188.9 63.2,188.8 64.0,188.8 64.7,188.8 65.5,188.8 66.2,188.8 67.0,188.8 67.7,188.8 68.5,188.8 69.2,188.8 70.0,188.8 70.7,188.7 71.5,188.7 72.2,188.7 73.0,188.7 73.7,188.7 74.5,188.6 75.2,188.6 76.0,188.6 76.7,188.6 77.5,188.5 78.2,188.5 79.0,188.4 79.7,188.4 80.5,188.4 81.2,188.3 82.0,188.2 82.7,188.2 83.5,188.1 84.2,188.0 85.0,188.0 85.7,187.9 86.5,187.8 87.2,187.7 88.0,187.6 88.7,187.5 89.5,187.4 90.2,187.2 91.0,187.1 91.7,187.0 92.5,186.8 93.2,186.6 94.0,186.5 94.7,186.3 95.5,186.1 96.2,185.8 97.0,185.6 97.7,185.4 98.5,185.1 99.2,184.8 100.0,184.5 100.7,184.2 101.5,183.9 102.2,183.5 103.0,183.2 103.7,182.8 104.5,182.4 105.2,182.0 106.0,181.5 106.7,181.0 107.5,180.5 108.2,180.0 109.0,179.5 109.7,178.9 110.5,178.3 111.2,177.7 112.0,177.0 112.7,176.3 113.5,175.6 114.2,174.9 115.0,174.1 115.7,173.3 116.5,172.5 117.2,171.6 118.0,170.8 118.7,169.8 119.5,168.9 120.2,167.9 121.0,166.9 121.7,165.9 122.5,164.8 123.2,163.7 124.0,162.6 124.7,161.5 125.5,160.3 126.2,159.1 127.0,157.9 127.7,156.6 128.4,155.3 129.2,154.0 129.9,152.7 130.7,151.4 131.4,150.0 132.2,148.7 132.9,147.3 133.7,145.9 134.4,144.5 135.2,143.1 135.9,141.7 136.7,140.3 137.4,138.8 138.2,137.4 138.9,136.0 139.7,134.6 140.4,133.2 141.2,131.8 141.9,130.4 142.7,129.0 143.4,127.6 144.2,126.3 144.9,125.0 145.7,123.7 146.4,122.4 147.2,121.2 147.9,120.0 148.7,118.9 149.4,117.7 150.2,116.7 150.9,115.6 151.7,114.6 152.4,113.7 153.2,112.8 153.9,112.0 154.7,111.2 155.4,110.5 156.2,109.8 156.9,109.2 157.7,108.6 158.4,108.1 159.2,107.7 159.9,107.3 160.7,107.0 161.4,106.8 162.2,106.6 162.9,106.5 163.7,106.5 164.4,106.5 165.2,106.7 165.9,106.9 166.7,107.2 167.4,107.6 168.2,108.0 168.9,108.6 169.7,109.2 170.4,109.9 171.2,110.7 171.9,111.6 172.7,112.5 173.4,113.5 174.2,114.6 174.9,115.7 175.7,116.9 176.4,118.1 177.2,119.4 177.9,120.8 178.7,122.2 179.4,123.6 180.2,125.1 180.9,126.5 181.7,128.1 182.4,129.6 183.2,131.2 183.9,132.8 184.7,134.4 185.4,136.0 186.2,137.6 186.9,139.2 187.7,140.9 188.4,142.5 189.2,144.1 189.9,145.7 190.7,147.3 191.4,148.9 192.2,150.4 192.9,151.9 193.7,153.4 194.4,154.9 195.2,156.4 195.9,157.8 196.7,159.2 197.4,160.6 198.2,161.9 198.9,163.2 199.7,164.4 200.4,165.7 201.2,166.8 201.9,168.0 202.7,169.1 203.4,170.2 204.2,171.2 204.9,172.2 205.7,173.1 206.4,174.0 207.2,174.9 207.9,175.7 208.7,176.5 209.4,177.3 210.2,178.0 210.9,178.7 211.7,179.4 212.4,180.0 213.2,180.6 213.9,181.2 214.7,181.7 215.4,182.2 216.2,182.7 216.9,183.1 217.7,183.5 218.4,183.9 219.2,184.3 219.9,184.7 220.7,185.0 221.4,185.3 222.2,185.6 222.9,185.8 223.7,186.1 224.4,186.3 225.2,186.5 225.9,186.7 226.7,186.9 227.4,187.1 228.2,187.2 228.9,187.4 229.7,187.5 230.4,187.6 231.2,187.7 231.9,187.9 232.7,187.9 233.4,188.0 234.2,188.1 234.9,188.2 235.7,188.3 236.4,188.3 237.2,188.4 237.9,188.4 238.7,188.5 239.4,188.5 240.2,188.6 240.9,188.6 241.7,188.6 242.4,188.7 243.2,188.7 243.9,188.7 244.7,188.7 245.4,188.7 246.2,188.8 246.9,188.8 247.7,188.8 248.4,188.8 249.2,188.8 249.9,188.8 250.7,188.8 251.4,188.8 252.2,188.8 252.9,188.9 253.7,188.9 254.4,188.9 255.2,188.9 255.9,188.9 256.7,188.9" stroke="#303030" stroke-width="0.85" fill="none" stroke-linejoin="round"/>
<path d="M39.2,188.9 40.0,188.9 40.7,188.9 41.5,188.9 42.2,188.9 43.0,188.9 43.7,188.9 44.5,188.9 45.2,188.9 46.0,188.9 46.7,188.9 47.5,188.9 48.2,188.9 49.0,188.9 49.7,188.9 50.5,188.9 51.2,188.9 52.0,188.9 52.7,188.9 53.5,188.9 54.2,188.9 55.0,188.9 55.7,188.9 56.5,188.9 57.2,188.9 58.0,188.9 58.7,188.9 59.5,188.9 60.2,188.9 61.0,188.9 61.7,188.9 62.5,188.9 63.2,188.9 64.0,188.9 64.7,188.9 65.5,188.9 66.2,188.8 67.0,188.8 67.7,188.8 68.5,188.8 69.2,188.8 70.0,188.8 70.7,188.8 71.5,188.8 72.2,188.8 73.0,188.8 73.7,188.8 74.5,188.7 75.2,188.7 76.0,188.7 76.7,188.7 77.5,188.7 78.2,188.6 79.0,188.6 79.7,188.6 80.5,188.6 81.2,188.5 82.0,188.5 82.7,188.5 83.5,188.4 84.2,188.4 85.0,188.3 85.7,188.3 86.5,188.2 87.2,188.2 88.0,188.1 88.7,188.0 89.5,188.0 90.2,187.9 91.0,187.8 91.7,187.7 92.5,187.6 93.2,187.5 94.0,187.4 94.7,187.3 95.5,187.2 96.2,187.0 97.0,186.9 97.7,186.7 98.5,186.6 99.2,186.4 100.0,186.2 100.7,186.0 101.5,185.8 102.2,185.6 103.0,185.3 103.7,185.1 104.5,184.8 105.2,184.5 106.0,184.2 106.7,183.9 107.5,183.6 108.2,183.3 109.0,182.9 109.7,182.5 110.5,182.1 111.2,181.7 112.0,181.3 112.7,180.8 113.5,180.3 114.2,179.8 115.0,179.3 115.7,178.7 116.5,178.2 117.2,177.6 118.0,177.0 118.7,176.3 119.5,175.6 120.2,174.9 121.0,174.2 121.7,173.5 122.5,172.7 123.2,171.9 124.0,171.1 124.7,170.2 125.5,169.3 126.2,168.4 127.0,167.5 127.7,166.6 128.4,165.6 129.2,164.6 129.9,163.5 130.7,162.5 131.4,161.4 132.2,160.3 132.9,159.2 133.7,158.0 134.4,156.8 135.2,155.7 135.9,154.4 136.7,153.2 137.4,152.0 138.2,150.7 138.9,149.5 139.7,148.2 140.4,146.9 141.2,145.6 141.9,144.3 142.7,143.0 143.4,141.6 144.2,140.3 144.9,139.0 145.7,137.7 146.4,136.4 147.2,135.1 147.9,133.8 148.7,132.5 149.4,131.2 150.2,129.9 150.9,128.7 151.7,127.5 152.4,126.3 153.2,125.1 153.9,123.9 154.7,122.8 155.4,121.7 156.2,120.6 156.9,119.6 157.7,118.6 158.4,117.6 159.2,116.7 159.9,115.9 160.7,115.0 161.4,114.2 162.2,113.5 162.9,112.8 163.7,112.2 164.4,111.6 165.2,111.1 165.9,110.6 166.7,110.2 167.4,109.8 168.2,109.5 168.9,109.2 169.7,109.0 170.4,108.9 171.2,108.8 171.9,108.8 172.7,108.9 173.4,109.0 174.2,109.2 174.9,109.4 175.7,109.8 176.4,110.2 177.2,110.7 177.9,111.2 178.7,111.8 179.4,112.5 180.2,113.2 180.9,114.0 181.7,114.9 182.4,115.8 183.2,116.8 183.9,117.8 184.7,118.9 185.4,120.0 186.2,121.1 186.9,122.3 187.7,123.6 188.4,124.8 189.2,126.2 189.9,127.5 190.7,128.8 191.4,130.2 192.2,131.6 192.9,133.1 193.7,134.5 194.4,135.9 195.2,137.4 195.9,138.9 196.7,140.3 197.4,141.8 198.2,143.2 198.9,144.7 199.7,146.1 200.4,147.6 201.2,149.0 201.9,150.4 202.7,151.8 203.4,153.2 204.2,154.5 204.9,155.9 205.7,157.2 206.4,158.5 207.2,159.7 207.9,161.0 208.7,162.2 209.4,163.4 210.2,164.5 210.9,165.6 211.7,166.7 212.4,167.8 213.2,168.8 213.9,169.8 214.7,170.7 215.4,171.7 216.2,172.6 216.9,173.4 217.7,174.3 218.4,175.0 219.2,175.8 219.9,176.6 220.7,177.3 221.4,177.9 222.2,178.6 222.9,179.2 223.7,179.8 224.4,180.3 225.2,180.9 225.9,181.4 226.7,181.9 227.4,182.3 228.2,182.7 228.9,183.1 229.7,183.5 230.4,183.9 231.2,184.2 231.9,184.6 232.7,184.9 233.4,185.2 234.2,185.4 234.9,185.7 235.7,185.9 236.4,186.1 237.2,186.4 237.9,186.5 238.7,186.7 239.4,186.9 240.2,187.1 240.9,187.2 241.7,187.3 242.4,187.5 243.2,187.6 243.9,187.7 244.7,187.8 245.4,187.9 246.2,188.0 246.9,188.1 247.7,188.1 248.4,188.2 249.2,188.3 249.9,188.3 250.7,188.4 251.4,188.4 252.2,188.5 252.9,188.5 253.7,188.5 254.4,188.6 255.2,188.6 255.9,188.6 256.7,188.7" stroke="#303030" stroke-width="0.85" fill="none" stroke-linejoin="round"/>
<text x="43.60" y="47.00" font-size="12.5" text-anchor="start" font-weight="bold">i</text>
<text x="253.70" y="46.20" font-size="14" text-anchor="end">Control</text>
<text x="165.30" y="68.00" font-size="12.2" text-anchor="start">Time</text>
<line x1="144.80" y1="74.70" x2="211.00" y2="74.70" stroke="#808080" stroke-width="1.6"/>
<path d="M157.3,71.0 143.8,74.7 157.3,78.4" stroke="#808080" stroke-width="1.0" fill="none" stroke-linejoin="round"/>
<rect x="294.90" y="32.00" width="214.40" height="155.60" stroke="#8c8c8c" stroke-width="1" fill="none"/>
<line x1="292.40" y1="186.90" x2="294.90" y2="186.90" stroke="#777" stroke-width="0.8"/>
<text x="287.80" y="190.40" font-size="10.0" text-anchor="end">0.0</text>
<line x1="292.40" y1="156.14" x2="294.90" y2="156.14" stroke="#777" stroke-width="0.8"/>
<text x="287.80" y="159.64" font-size="10.0" text-anchor="end">0.2</text>
<line x1="292.40" y1="125.38" x2="294.90" y2="125.38" stroke="#777" stroke-width="0.8"/>
<text x="287.80" y="128.88" font-size="10.0" text-anchor="end">0.4</text>
<line x1="292.40" y1="94.62" x2="294.90" y2="94.62" stroke="#777" stroke-width="0.8"/>
<text x="287.80" y="98.12" font-size="10.0" text-anchor="end">0.6</text>
<line x1="292.40" y1="63.86" x2="294.90" y2="63.86" stroke="#777" stroke-width="0.8"/>
<text x="287.80" y="67.36" font-size="10.0" text-anchor="end">0.8</text>
<line x1="292.40" y1="33.10" x2="294.90" y2="33.10" stroke="#777" stroke-width="0.8"/>
<text x="287.80" y="36.60" font-size="10.0" text-anchor="end">1.0</text>
<line x1="295.00" y1="187.60" x2="295.00" y2="189.80" stroke="#777" stroke-width="0.8"/>
<text x="295.00" y="203.70" font-size="10.0" text-anchor="middle">55</text>
<line x1="320.05" y1="187.60" x2="320.05" y2="189.80" stroke="#777" stroke-width="0.8"/>
<text x="320.05" y="203.70" font-size="10.0" text-anchor="middle">60</text>
<line x1="345.10" y1="187.60" x2="345.10" y2="189.80" stroke="#777" stroke-width="0.8"/>
<text x="345.10" y="203.70" font-size="10.0" text-anchor="middle">65</text>
<line x1="370.15" y1="187.60" x2="370.15" y2="189.80" stroke="#777" stroke-width="0.8"/>
<text x="370.15" y="203.70" font-size="10.0" text-anchor="middle">70</text>
<line x1="395.20" y1="187.60" x2="395.20" y2="189.80" stroke="#777" stroke-width="0.8"/>
<text x="395.20" y="203.70" font-size="10.0" text-anchor="middle">75</text>
<line x1="420.25" y1="187.60" x2="420.25" y2="189.80" stroke="#777" stroke-width="0.8"/>
<text x="420.25" y="203.70" font-size="10.0" text-anchor="middle">80</text>
<line x1="445.30" y1="187.60" x2="445.30" y2="189.80" stroke="#777" stroke-width="0.8"/>
<text x="445.30" y="203.70" font-size="10.0" text-anchor="middle">85</text>
<line x1="470.35" y1="187.60" x2="470.35" y2="189.80" stroke="#777" stroke-width="0.8"/>
<text x="470.35" y="203.70" font-size="10.0" text-anchor="middle">90</text>
<line x1="495.40" y1="187.60" x2="495.40" y2="189.80" stroke="#777" stroke-width="0.8"/>
<text x="495.40" y="203.70" font-size="10.0" text-anchor="middle">95</text>
<path d="M295.5,186.2 296.2,186.2 297.0,186.2 297.8,186.2 298.5,186.1 299.2,186.1 300.0,186.1 300.8,186.0 301.5,186.0 302.2,185.9 303.0,185.9 303.8,185.8 304.5,185.7 305.2,185.6 306.0,185.5 306.8,185.3 307.5,185.2 308.2,185.0 309.0,184.8 309.8,184.6 310.5,184.3 311.2,184.1 312.0,183.7 312.8,183.4 313.5,183.0 314.2,182.5 315.0,182.0 315.8,181.4 316.5,180.8 317.2,180.1 318.0,179.3 318.8,178.5 319.5,177.5 320.2,176.5 321.0,175.3 321.8,174.1 322.5,172.7 323.2,171.2 324.0,169.6 324.8,167.8 325.5,165.9 326.2,163.9 327.0,161.7 327.8,159.3 328.5,156.8 329.2,154.2 330.0,151.3 330.8,148.3 331.5,145.1 332.2,141.8 333.0,138.3 333.8,134.6 334.5,130.8 335.2,126.8 336.0,122.7 336.8,118.5 337.5,114.1 338.2,109.7 339.0,105.2 339.8,100.6 340.5,96.0 341.2,91.4 342.0,86.8 342.8,82.2 343.5,77.8 344.2,73.4 345.0,69.2 345.8,65.1 346.5,61.2 347.2,57.6 348.0,54.3 348.8,51.3 349.5,48.6 350.2,46.4 351.0,44.6 351.8,43.3 352.5,42.6 353.2,42.6 354.0,42.9 354.8,43.5 355.5,44.5 356.2,45.7 357.0,47.2 357.8,49.0 358.5,51.0 359.2,53.3 360.0,55.9 360.8,58.6 361.5,61.6 362.2,64.7 363.0,68.1 363.8,71.5 364.5,75.2 365.2,78.9 366.0,82.7 366.8,86.6 367.5,90.5 368.2,94.5 369.0,98.5 369.8,102.6 370.5,106.6 371.2,110.5 372.0,114.4 372.8,118.3 373.5,122.1 374.2,125.8 375.0,129.4 375.8,132.9 376.5,136.3 377.2,139.6 378.0,142.8 378.8,145.8 379.5,148.7 380.2,151.5 381.0,154.1 381.8,156.6 382.5,159.0 383.2,161.2 384.0,163.3 384.8,165.2 385.5,167.1 386.2,168.8 387.0,170.4 387.8,171.9 388.5,173.2 389.2,174.5 390.0,175.7 390.8,176.7 391.5,177.7 392.2,178.6 393.0,179.4 393.8,180.2 394.5,180.8 395.2,181.5 396.0,182.0 396.8,182.5 397.5,183.0 398.2,183.4 399.0,183.7 399.8,184.0 400.5,184.3 401.2,184.6 402.0,184.8 402.8,185.0 403.5,185.2 404.2,185.3 405.0,185.4 405.8,185.6 406.5,185.7 407.2,185.8 408.0,185.8 408.8,185.9 409.5,186.0 410.2,186.0 411.0,186.1 411.8,186.1 412.5,186.1 413.2,186.2 414.0,186.2 414.8,186.2 415.5,186.2 416.2,186.2 417.0,186.2 417.8,186.2 418.5,186.3 419.2,186.3 420.0,186.3 420.8,186.3 421.5,186.3 422.2,186.3 423.0,186.3 423.8,186.3 424.5,186.3 425.2,186.3 426.0,186.3 426.8,186.3 427.5,186.3 428.2,186.3 429.0,186.3 429.8,186.3 430.5,186.3 431.2,186.3 432.0,186.3 432.8,186.3 433.5,186.3 434.2,186.3 435.0,186.3 435.8,186.3 436.5,186.3 437.2,186.3 438.0,186.3 438.8,186.3 439.5,186.3 440.2,186.3 441.0,186.3 441.8,186.3 442.5,186.3 443.2,186.3 444.0,186.3 444.8,186.3 445.5,186.3 446.2,186.3 447.0,186.3 447.8,186.3 448.5,186.3 449.2,186.3 450.0,186.3 450.8,186.3 451.5,186.3 452.2,186.3 453.0,186.3 453.8,186.3 454.5,186.3 455.2,186.3 456.0,186.3 456.8,186.3 457.5,186.3 458.2,186.3 459.0,186.3 459.8,186.3 460.5,186.3 461.2,186.3 462.0,186.3 462.8,186.3 463.5,186.3 464.2,186.3 465.0,186.3 465.8,186.3 466.5,186.3 467.2,186.3 468.0,186.3 468.8,186.3 469.5,186.3 470.2,186.3 471.0,186.3 471.8,186.3 472.5,186.3 473.2,186.3 474.0,186.3 474.8,186.3 475.5,186.3 476.2,186.3 477.0,186.3 477.8,186.3 478.5,186.3 479.2,186.3 480.0,186.3 480.8,186.3 481.5,186.3 482.2,186.3 483.0,186.3 483.8,186.3 484.5,186.3 485.2,186.3 486.0,186.3 486.8,186.3 487.5,186.3 488.2,186.3 489.0,186.3 489.8,186.3 490.5,186.3 491.2,186.3 492.0,186.3 492.8,186.3 493.5,186.3 494.2,186.3 495.0,186.3 495.8,186.3 496.5,186.3 497.2,186.3 498.0,186.3 498.8,186.3 499.5,186.3 500.2,186.3 501.0,186.3 501.8,186.3 502.5,186.3 503.2,186.3 504.0,186.3 504.8,186.3 505.5,186.3 506.2,186.3 507.0,186.3 507.8,186.3 508.5,186.3" stroke="#303030" stroke-width="0.85" fill="none" stroke-linejoin="round"/>
<path d="M295.5,186.2 296.2,186.2 297.0,186.2 297.8,186.2 298.5,186.2 299.2,186.2 300.0,186.1 300.8,186.1 301.5,186.1 302.2,186.1 303.0,186.0 303.8,186.0 304.5,185.9 305.2,185.8 306.0,185.8 306.8,185.7 307.5,185.6 308.2,185.5 309.0,185.4 309.8,185.2 310.5,185.1 311.2,184.9 312.0,184.7 312.8,184.5 313.5,184.2 314.2,183.9 315.0,183.6 315.8,183.2 316.5,182.8 317.2,182.4 318.0,181.9 318.8,181.4 319.5,180.7 320.2,180.1 321.0,179.3 321.8,178.5 322.5,177.6 323.2,176.7 324.0,175.6 324.8,174.5 325.5,173.2 326.2,171.8 327.0,170.4 327.8,168.8 328.5,167.0 329.2,165.2 330.0,163.2 330.8,161.1 331.5,158.9 332.2,156.5 333.0,153.9 333.8,151.3 334.5,148.4 335.2,145.5 336.0,142.3 336.8,139.1 337.5,135.7 338.2,132.2 339.0,128.5 339.8,124.7 340.5,120.8 341.2,116.9 342.0,112.8 342.8,108.7 343.5,104.5 344.2,100.3 345.0,96.1 345.8,91.9 346.5,87.7 347.2,83.6 348.0,79.6 348.8,75.6 349.5,71.8 350.2,68.2 351.0,64.8 351.8,61.6 352.5,58.6 353.2,55.9 354.0,53.6 354.8,51.6 355.5,50.0 356.2,48.9 357.0,48.3 357.8,48.3 358.5,48.6 359.2,49.2 360.0,50.2 360.8,51.5 361.5,53.0 362.2,54.8 363.0,56.9 363.8,59.2 364.5,61.8 365.2,64.6 366.0,67.6 366.8,70.8 367.5,74.2 368.2,77.7 369.0,81.3 369.8,85.1 370.5,88.9 371.2,92.8 372.0,96.7 372.8,100.7 373.5,104.7 374.2,108.6 375.0,112.6 375.8,116.5 376.5,120.3 377.2,124.1 378.0,127.8 378.8,131.3 379.5,134.8 380.2,138.2 381.0,141.5 381.8,144.6 382.5,147.6 383.2,150.5 384.0,153.2 384.8,155.8 385.5,158.2 386.2,160.5 387.0,162.7 387.8,164.7 388.5,166.6 389.2,168.4 390.0,170.1 390.8,171.6 391.5,173.0 392.2,174.3 393.0,175.5 393.8,176.7 394.5,177.7 395.2,178.6 396.0,179.4 396.8,180.2 397.5,180.9 398.2,181.5 399.0,182.1 399.8,182.6 400.5,183.0 401.2,183.4 402.0,183.8 402.8,184.1 403.5,184.4 404.2,184.6 405.0,184.9 405.8,185.0 406.5,185.2 407.2,185.4 408.0,185.5 408.8,185.6 409.5,185.7 410.2,185.8 411.0,185.9 411.8,185.9 412.5,186.0 413.2,186.0 414.0,186.1 414.8,186.1 415.5,186.1 416.2,186.2 417.0,186.2 417.8,186.2 418.5,186.2 419.2,186.2 420.0,186.2 420.8,186.3 421.5,186.3 422.2,186.3 423.0,186.3 423.8,186.3 424.5,186.3 425.2,186.3 426.0,186.3 426.8,186.3 427.5,186.3 428.2,186.3 429.0,186.3 429.8,186.3 430.5,186.3 431.2,186.3 432.0,186.3 432.8,186.3 433.5,186.3 434.2,186.3 435.0,186.3 435.8,186.3 436.5,186.3 437.2,186.3 438.0,186.3 438.8,186.3 439.5,186.3 440.2,186.3 441.0,186.3 441.8,186.3 442.5,186.3 443.2,186.3 444.0,186.3 444.8,186.3 445.5,186.3 446.2,186.3 447.0,186.3 447.8,186.3 448.5,186.3 449.2,186.3 450.0,186.3 450.8,186.3 451.5,186.3 452.2,186.3 453.0,186.3 453.8,186.3 454.5,186.3 455.2,186.3 456.0,186.3 456.8,186.3 457.5,186.3 458.2,186.3 459.0,186.3 459.8,186.3 460.5,186.3 461.2,186.3 462.0,186.3 462.8,186.3 463.5,186.3 464.2,186.3 465.0,186.3 465.8,186.3 466.5,186.3 467.2,186.3 468.0,186.3 468.8,186.3 469.5,186.3 470.2,186.3 471.0,186.3 471.8,186.3 472.5,186.3 473.2,186.3 474.0,186.3 474.8,186.3 475.5,186.3 476.2,186.3 477.0,186.3 477.8,186.3 478.5,186.3 479.2,186.3 480.0,186.3 480.8,186.3 481.5,186.3 482.2,186.3 483.0,186.3 483.8,186.3 484.5,186.3 485.2,186.3 486.0,186.3 486.8,186.3 487.5,186.3 488.2,186.3 489.0,186.3 489.8,186.3 490.5,186.3 491.2,186.3 492.0,186.3 492.8,186.3 493.5,186.3 494.2,186.3 495.0,186.3 495.8,186.3 496.5,186.3 497.2,186.3 498.0,186.3 498.8,186.3 499.5,186.3 500.2,186.3 501.0,186.3 501.8,186.3 502.5,186.3 503.2,186.3 504.0,186.3 504.8,186.3 505.5,186.3 506.2,186.3 507.0,186.3 507.8,186.3 508.5,186.3" stroke="#303030" stroke-width="0.85" fill="none" stroke-linejoin="round"/>
<path d="M295.5,186.3 296.2,186.3 297.0,186.2 297.8,186.2 298.5,186.2 299.2,186.2 300.0,186.2 300.8,186.2 301.5,186.2 302.2,186.1 303.0,186.1 303.8,186.1 304.5,186.0 305.2,186.0 306.0,186.0 306.8,185.9 307.5,185.9 308.2,185.8 309.0,185.7 309.8,185.6 310.5,185.5 311.2,185.4 312.0,185.3 312.8,185.1 313.5,185.0 314.2,184.8 315.0,184.6 315.8,184.4 316.5,184.1 317.2,183.8 318.0,183.5 318.8,183.1 319.5,182.7 320.2,182.3 321.0,181.8 321.8,181.3 322.5,180.7 323.2,180.1 324.0,179.4 324.8,178.6 325.5,177.8 326.2,176.9 327.0,175.9 327.8,174.8 328.5,173.6 329.2,172.4 330.0,171.0 330.8,169.5 331.5,168.0 332.2,166.3 333.0,164.5 333.8,162.6 334.5,160.5 335.2,158.3 336.0,156.1 336.8,153.6 337.5,151.1 338.2,148.4 339.0,145.6 339.8,142.7 340.5,139.6 341.2,136.4 342.0,133.1 342.8,129.8 343.5,126.3 344.2,122.7 345.0,119.0 345.8,115.3 346.5,111.5 347.2,107.7 348.0,103.8 348.8,99.9 349.5,96.1 350.2,92.2 351.0,88.5 351.8,84.8 352.5,81.1 353.2,77.6 354.0,74.3 354.8,71.1 355.5,68.1 356.2,65.3 357.0,62.8 357.8,60.5 358.5,58.6 359.2,56.9 360.0,55.7 360.8,54.8 361.5,54.5 362.2,54.6 363.0,55.0 363.8,55.7 364.5,56.7 365.2,57.9 366.0,59.3 366.8,61.0 367.5,62.9 368.2,65.1 369.0,67.4 369.8,70.0 370.5,72.7 371.2,75.6 372.0,78.7 372.8,81.8 373.5,85.1 374.2,88.5 375.0,92.0 375.8,95.5 376.5,99.1 377.2,102.7 378.0,106.4 378.8,110.0 379.5,113.6 380.2,117.2 381.0,120.7 381.8,124.2 382.5,127.7 383.2,131.0 384.0,134.3 384.8,137.5 385.5,140.5 386.2,143.5 387.0,146.4 387.8,149.1 388.5,151.7 389.2,154.3 390.0,156.6 390.8,158.9 391.5,161.1 392.2,163.1 393.0,165.0 393.8,166.8 394.5,168.5 395.2,170.0 396.0,171.5 396.8,172.8 397.5,174.1 398.2,175.3 399.0,176.3 399.8,177.3 400.5,178.2 401.2,179.1 402.0,179.8 402.8,180.5 403.5,181.1 404.2,181.7 405.0,182.2 405.8,182.7 406.5,183.1 407.2,183.5 408.0,183.8 408.8,184.1 409.5,184.4 410.2,184.6 411.0,184.8 411.8,185.0 412.5,185.2 413.2,185.3 414.0,185.5 414.8,185.6 415.5,185.7 416.2,185.8 417.0,185.8 417.8,185.9 418.5,186.0 419.2,186.0 420.0,186.1 420.8,186.1 421.5,186.1 422.2,186.1 423.0,186.2 423.8,186.2 424.5,186.2 425.2,186.2 426.0,186.2 426.8,186.2 427.5,186.3 428.2,186.3 429.0,186.3 429.8,186.3 430.5,186.3 431.2,186.3 432.0,186.3 432.8,186.3 433.5,186.3 434.2,186.3 435.0,186.3 435.8,186.3 436.5,186.3 437.2,186.3 438.0,186.3 438.8,186.3 439.5,186.3 440.2,186.3 441.0,186.3 441.8,186.3 442.5,186.3 443.2,186.3 444.0,186.3 444.8,186.3 445.5,186.3 446.2,186.3 447.0,186.3 447.8,186.3 448.5,186.3 449.2,186.3 450.0,186.3 450.8,186.3 451.5,186.3 452.2,186.3 453.0,186.3 453.8,186.3 454.5,186.3 455.2,186.3 456.0,186.3 456.8,186.3 457.5,186.3 458.2,186.3 459.0,186.3 459.8,186.3 460.5,186.3 461.2,186.3 462.0,186.3 462.8,186.3 463.5,186.3 464.2,186.3 465.0,186.3 465.8,186.3 466.5,186.3 467.2,186.3 468.0,186.3 468.8,186.3 469.5,186.3 470.2,186.3 471.0,186.3 471.8,186.3 472.5,186.3 473.2,186.3 474.0,186.3 474.8,186.3 475.5,186.3 476.2,186.3 477.0,186.3 477.8,186.3 478.5,186.3 479.2,186.3 480.0,186.3 480.8,186.3 481.5,186.3 482.2,186.3 483.0,186.3 483.8,186.3 484.5,186.3 485.2,186.3 486.0,186.3 486.8,186.3 487.5,186.3 488.2,186.3 489.0,186.3 489.8,186.3 490.5,186.3 491.2,186.3 492.0,186.3 492.8,186.3 493.5,186.3 494.2,186.3 495.0,186.3 495.8,186.3 496.5,186.3 497.2,186.3 498.0,186.3 498.8,186.3 499.5,186.3 500.2,186.3 501.0,186.3 501.8,186.3 502.5,186.3 503.2,186.3 504.0,186.3 504.8,186.3 505.5,186.3 506.2,186.3 507.0,186.3 507.8,186.3 508.5,186.3" stroke="#303030" stroke-width="0.85" fill="none" stroke-linejoin="round"/>
<path d="M295.5,186.3 296.2,186.3 297.0,186.3 297.8,186.3 298.5,186.3 299.2,186.2 300.0,186.2 300.8,186.2 301.5,186.2 302.2,186.2 303.0,186.2 303.8,186.2 304.5,186.1 305.2,186.1 306.0,186.1 306.8,186.1 307.5,186.0 308.2,186.0 309.0,185.9 309.8,185.9 310.5,185.8 311.2,185.7 312.0,185.7 312.8,185.6 313.5,185.5 314.2,185.4 315.0,185.2 315.8,185.1 316.5,184.9 317.2,184.7 318.0,184.5 318.8,184.3 319.5,184.0 320.2,183.7 321.0,183.4 321.8,183.1 322.5,182.7 323.2,182.2 324.0,181.8 324.8,181.3 325.5,180.7 326.2,180.1 327.0,179.4 327.8,178.6 328.5,177.8 329.2,176.9 330.0,175.9 330.8,174.9 331.5,173.8 332.2,172.6 333.0,171.2 333.8,169.8 334.5,168.3 335.2,166.7 336.0,165.0 336.8,163.2 337.5,161.2 338.2,159.1 339.0,157.0 339.8,154.7 340.5,152.2 341.2,149.7 342.0,147.0 342.8,144.3 343.5,141.4 344.2,138.4 345.0,135.2 345.8,132.0 346.5,128.7 347.2,125.3 348.0,121.9 348.8,118.3 349.5,114.7 350.2,111.1 351.0,107.4 351.8,103.8 352.5,100.1 353.2,96.4 354.0,92.8 354.8,89.3 355.5,85.8 356.2,82.4 357.0,79.2 357.8,76.0 358.5,73.1 359.2,70.4 360.0,67.8 360.8,65.5 361.5,63.5 362.2,61.8 363.0,60.3 363.8,59.3 364.5,58.7 365.2,58.5 366.0,58.7 366.8,59.2 367.5,59.8 368.2,60.8 369.0,61.9 369.8,63.3 370.5,64.9 371.2,66.7 372.0,68.7 372.8,70.8 373.5,73.2 374.2,75.7 375.0,78.4 375.8,81.2 376.5,84.1 377.2,87.1 378.0,90.3 378.8,93.5 379.5,96.7 380.2,100.0 381.0,103.4 381.8,106.8 382.5,110.1 383.2,113.5 384.0,116.9 384.8,120.2 385.5,123.5 386.2,126.7 387.0,129.9 387.8,133.0 388.5,136.0 389.2,139.0 390.0,141.9 390.8,144.6 391.5,147.3 392.2,149.9 393.0,152.3 393.8,154.7 394.5,156.9 395.2,159.1 396.0,161.1 396.8,163.0 397.5,164.9 398.2,166.6 399.0,168.2 399.8,169.7 400.5,171.1 401.2,172.4 402.0,173.7 402.8,174.8 403.5,175.9 404.2,176.8 405.0,177.7 405.8,178.6 406.5,179.3 407.2,180.0 408.0,180.7 408.8,181.3 409.5,181.8 410.2,182.3 411.0,182.7 411.8,183.1 412.5,183.5 413.2,183.8 414.0,184.1 414.8,184.4 415.5,184.6 416.2,184.8 417.0,185.0 417.8,185.1 418.5,185.3 419.2,185.4 420.0,185.5 420.8,185.6 421.5,185.7 422.2,185.8 423.0,185.9 423.8,185.9 424.5,186.0 425.2,186.0 426.0,186.1 426.8,186.1 427.5,186.1 428.2,186.2 429.0,186.2 429.8,186.2 430.5,186.2 431.2,186.2 432.0,186.2 432.8,186.2 433.5,186.3 434.2,186.3 435.0,186.3 435.8,186.3 436.5,186.3 437.2,186.3 438.0,186.3 438.8,186.3 439.5,186.3 440.2,186.3 441.0,186.3 441.8,186.3 442.5,186.3 443.2,186.3 444.0,186.3 444.8,186.3 445.5,186.3 446.2,186.3 447.0,186.3 447.8,186.3 448.5,186.3 449.2,186.3 450.0,186.3 450.8,186.3 451.5,186.3 452.2,186.3 453.0,186.3 453.8,186.3 454.5,186.3 455.2,186.3 456.0,186.3 456.8,186.3 457.5,186.3 458.2,186.3 459.0,186.3 459.8,186.3 460.5,186.3 461.2,186.3 462.0,186.3 462.8,186.3 463.5,186.3 464.2,186.3 465.0,186.3 465.8,186.3 466.5,186.3 467.2,186.3 468.0,186.3 468.8,186.3 469.5,186.3 470.2,186.3 471.0,186.3 471.8,186.3 472.5,186.3 473.2,186.3 474.0,186.3 474.8,186.3 475.5,186.3 476.2,186.3 477.0,186.3 477.8,186.3 478.5,186.3 479.2,186.3 480.0,186.3 480.8,186.3 481.5,186.3 482.2,186.3 483.0,186.3 483.8,186.3 484.5,186.3 485.2,186.3 486.0,186.3 486.8,186.3 487.5,186.3 488.2,186.3 489.0,186.3 489.8,186.3 490.5,186.3 491.2,186.3 492.0,186.3 492.8,186.3 493.5,186.3 494.2,186.3 495.0,186.3 495.8,186.3 496.5,186.3 497.2,186.3 498.0,186.3 498.8,186.3 499.5,186.3 500.2,186.3 501.0,186.3 501.8,186.3 502.5,186.3 503.2,186.3 504.0,186.3 504.8,186.3 505.5,186.3 506.2,186.3 507.0,186.3 507.8,186.3 508.5,186.3" stroke="#303030" stroke-width="0.85" fill="none" stroke-linejoin="round"/>
<path d="M295.5,186.3 296.2,186.3 297.0,186.3 297.8,186.3 298.5,186.3 299.2,186.3 300.0,186.2 300.8,186.2 301.5,186.2 302.2,186.2 303.0,186.2 303.8,186.2 304.5,186.2 305.2,186.1 306.0,186.1 306.8,186.1 307.5,186.1 308.2,186.0 309.0,186.0 309.8,186.0 310.5,185.9 311.2,185.9 312.0,185.8 312.8,185.7 313.5,185.7 314.2,185.6 315.0,185.5 315.8,185.4 316.5,185.3 317.2,185.1 318.0,185.0 318.8,184.8 319.5,184.7 320.2,184.5 321.0,184.3 321.8,184.0 322.5,183.7 323.2,183.5 324.0,183.1 324.8,182.8 325.5,182.4 326.2,182.0 327.0,181.5 327.8,181.0 328.5,180.5 329.2,179.9 330.0,179.2 330.8,178.5 331.5,177.7 332.2,176.9 333.0,176.0 333.8,175.1 334.5,174.0 335.2,172.9 336.0,171.7 336.8,170.4 337.5,169.0 338.2,167.6 339.0,166.0 339.8,164.4 340.5,162.6 341.2,160.7 342.0,158.8 342.8,156.7 343.5,154.5 344.2,152.2 345.0,149.8 345.8,147.2 346.5,144.6 347.2,141.9 348.0,139.0 348.8,136.0 349.5,133.0 350.2,129.8 351.0,126.6 351.8,123.3 352.5,119.9 353.2,116.5 354.0,113.0 354.8,109.4 355.5,105.8 356.2,102.3 357.0,98.7 357.8,95.1 358.5,91.6 359.2,88.2 360.0,84.8 360.8,81.5 361.5,78.4 362.2,75.4 363.0,72.5 363.8,69.9 364.5,67.5 365.2,65.4 366.0,63.6 366.8,62.1 367.5,61.1 368.2,60.6 369.0,60.7 369.8,61.0 370.5,61.5 371.2,62.2 372.0,63.1 372.8,64.2 373.5,65.5 374.2,67.0 375.0,68.7 375.8,70.5 376.5,72.5 377.2,74.6 378.0,76.9 378.8,79.3 379.5,81.9 380.2,84.5 381.0,87.2 381.8,90.1 382.5,93.0 383.2,95.9 384.0,99.0 384.8,102.0 385.5,105.1 386.2,108.2 387.0,111.3 387.8,114.4 388.5,117.5 389.2,120.6 390.0,123.6 390.8,126.6 391.5,129.5 392.2,132.4 393.0,135.2 393.8,138.0 394.5,140.7 395.2,143.3 396.0,145.8 396.8,148.3 397.5,150.6 398.2,152.9 399.0,155.1 399.8,157.1 400.5,159.1 401.2,161.0 402.0,162.8 402.8,164.5 403.5,166.1 404.2,167.7 405.0,169.1 405.8,170.5 406.5,171.7 407.2,172.9 408.0,174.0 408.8,175.1 409.5,176.1 410.2,177.0 411.0,177.8 411.8,178.6 412.5,179.3 413.2,179.9 414.0,180.5 414.8,181.1 415.5,181.6 416.2,182.1 417.0,182.5 417.8,182.9 418.5,183.3 419.2,183.6 420.0,183.9 420.8,184.1 421.5,184.4 422.2,184.6 423.0,184.8 423.8,185.0 424.5,185.1 425.2,185.3 426.0,185.4 426.8,185.5 427.5,185.6 428.2,185.7 429.0,185.8 429.8,185.8 430.5,185.9 431.2,185.9 432.0,186.0 432.8,186.0 433.5,186.1 434.2,186.1 435.0,186.1 435.8,186.1 436.5,186.2 437.2,186.2 438.0,186.2 438.8,186.2 439.5,186.2 440.2,186.2 441.0,186.2 441.8,186.3 442.5,186.3 443.2,186.3 444.0,186.3 444.8,186.3 445.5,186.3 446.2,186.3 447.0,186.3 447.8,186.3 448.5,186.3 449.2,186.3 450.0,186.3 450.8,186.3 451.5,186.3 452.2,186.3 453.0,186.3 453.8,186.3 454.5,186.3 455.2,186.3 456.0,186.3 456.8,186.3 457.5,186.3 458.2,186.3 459.0,186.3 459.8,186.3 460.5,186.3 461.2,186.3 462.0,186.3 462.8,186.3 463.5,186.3 464.2,186.3 465.0,186.3 465.8,186.3 466.5,186.3 467.2,186.3 468.0,186.3 468.8,186.3 469.5,186.3 470.2,186.3 471.0,186.3 471.8,186.3 472.5,186.3 473.2,186.3 474.0,186.3 474.8,186.3 475.5,186.3 476.2,186.3 477.0,186.3 477.8,186.3 478.5,186.3 479.2,186.3 480.0,186.3 480.8,186.3 481.5,186.3 482.2,186.3 483.0,186.3 483.8,186.3 484.5,186.3 485.2,186.3 486.0,186.3 486.8,186.3 487.5,186.3 488.2,186.3 489.0,186.3 489.8,186.3 490.5,186.3 491.2,186.3 492.0,186.3 492.8,186.3 493.5,186.3 494.2,186.3 495.0,186.3 495.8,186.3 496.5,186.3 497.2,186.3 498.0,186.3 498.8,186.3 499.5,186.3 500.2,186.3 501.0,186.3 501.8,186.3 502.5,186.3 503.2,186.3 504.0,186.3 504.8,186.3 505.5,186.3 506.2,186.3 507.0,186.3 507.8,186.3 508.5,186.3" stroke="#303030" stroke-width="0.85" fill="none" stroke-linejoin="round"/>
<path d="M295.5,186.3 296.2,186.3 297.0,186.3 297.8,186.3 298.5,186.3 299.2,186.3 300.0,186.3 300.8,186.3 301.5,186.3 302.2,186.3 303.0,186.3 303.8,186.2 304.5,186.2 305.2,186.2 306.0,186.2 306.8,186.2 307.5,186.2 308.2,186.2 309.0,186.2 309.8,186.1 310.5,186.1 311.2,186.1 312.0,186.0 312.8,186.0 313.5,186.0 314.2,185.9 315.0,185.9 315.8,185.8 316.5,185.7 317.2,185.7 318.0,185.6 318.8,185.5 319.5,185.4 320.2,185.2 321.0,185.1 321.8,185.0 322.5,184.8 323.2,184.6 324.0,184.4 324.8,184.2 325.5,183.9 326.2,183.7 327.0,183.4 327.8,183.0 328.5,182.7 329.2,182.3 330.0,181.8 330.8,181.4 331.5,180.8 332.2,180.3 333.0,179.7 333.8,179.0 334.5,178.3 335.2,177.5 336.0,176.7 336.8,175.8 337.5,174.8 338.2,173.7 339.0,172.6 339.8,171.4 340.5,170.1 341.2,168.8 342.0,167.3 342.8,165.8 343.5,164.2 344.2,162.5 345.0,160.6 345.8,158.7 346.5,156.7 347.2,154.6 348.0,152.4 348.8,150.2 349.5,147.8 350.2,145.3 351.0,142.7 351.8,140.1 352.5,137.4 353.2,134.6 354.0,131.7 354.8,128.8 355.5,125.8 356.2,122.8 357.0,119.7 357.8,116.6 358.5,113.5 359.2,110.4 360.0,107.3 360.8,104.2 361.5,101.1 362.2,98.1 363.0,95.2 363.8,92.3 364.5,89.6 365.2,86.9 366.0,84.4 366.8,82.1 367.5,79.9 368.2,77.9 369.0,76.1 369.8,74.5 370.5,73.2 371.2,72.2 372.0,71.4 372.8,71.0 373.5,71.0 374.2,71.2 375.0,71.6 375.8,72.1 376.5,72.8 377.2,73.6 378.0,74.6 378.8,75.8 379.5,77.0 380.2,78.5 381.0,80.0 381.8,81.7 382.5,83.5 383.2,85.5 384.0,87.5 384.8,89.6 385.5,91.8 386.2,94.1 387.0,96.5 387.8,98.9 388.5,101.4 389.2,104.0 390.0,106.5 390.8,109.2 391.5,111.8 392.2,114.4 393.0,117.1 393.8,119.7 394.5,122.4 395.2,125.0 396.0,127.6 396.8,130.1 397.5,132.7 398.2,135.2 399.0,137.6 399.8,140.0 400.5,142.4 401.2,144.6 402.0,146.9 402.8,149.0 403.5,151.1 404.2,153.1 405.0,155.1 405.8,156.9 406.5,158.7 407.2,160.5 408.0,162.1 408.8,163.7 409.5,165.2 410.2,166.7 411.0,168.0 411.8,169.3 412.5,170.5 413.2,171.7 414.0,172.8 414.8,173.8 415.5,174.8 416.2,175.7 417.0,176.5 417.8,177.3 418.5,178.1 419.2,178.8 420.0,179.4 420.8,180.0 421.5,180.6 422.2,181.1 423.0,181.5 423.8,182.0 424.5,182.4 425.2,182.8 426.0,183.1 426.8,183.4 427.5,183.7 428.2,184.0 429.0,184.2 429.8,184.4 430.5,184.6 431.2,184.8 432.0,184.9 432.8,185.1 433.5,185.2 434.2,185.3 435.0,185.4 435.8,185.5 436.5,185.6 437.2,185.7 438.0,185.8 438.8,185.8 439.5,185.9 440.2,185.9 441.0,186.0 441.8,186.0 442.5,186.1 443.2,186.1 444.0,186.1 444.8,186.1 445.5,186.2 446.2,186.2 447.0,186.2 447.8,186.2 448.5,186.2 449.2,186.2 450.0,186.2 450.8,186.2 451.5,186.3 452.2,186.3 453.0,186.3 453.8,186.3 454.5,186.3 455.2,186.3 456.0,186.3 456.8,186.3 457.5,186.3 458.2,186.3 459.0,186.3 459.8,186.3 460.5,186.3 461.2,186.3 462.0,186.3 462.8,186.3 463.5,186.3 464.2,186.3 465.0,186.3 465.8,186.3 466.5,186.3 467.2,186.3 468.0,186.3 468.8,186.3 469.5,186.3 470.2,186.3 471.0,186.3 471.8,186.3 472.5,186.3 473.2,186.3 474.0,186.3 474.8,186.3 475.5,186.3 476.2,186.3 477.0,186.3 477.8,186.3 478.5,186.3 479.2,186.3 480.0,186.3 480.8,186.3 481.5,186.3 482.2,186.3 483.0,186.3 483.8,186.3 484.5,186.3 485.2,186.3 486.0,186.3 486.8,186.3 487.5,186.3 488.2,186.3 489.0,186.3 489.8,186.3 490.5,186.3 491.2,186.3 492.0,186.3 492.8,186.3 493.5,186.3 494.2,186.3 495.0,186.3 495.8,186.3 496.5,186.3 497.2,186.3 498.0,186.3 498.8,186.3 499.5,186.3 500.2,186.3 501.0,186.3 501.8,186.3 502.5,186.3 503.2,186.3 504.0,186.3 504.8,186.3 505.5,186.3 506.2,186.3 507.0,186.3 507.8,186.3 508.5,186.3" stroke="#303030" stroke-width="0.85" fill="none" stroke-linejoin="round"/>
<path d="M295.5,186.3 296.2,186.3 297.0,186.3 297.8,186.3 298.5,186.3 299.2,186.3 300.0,186.3 300.8,186.3 301.5,186.3 302.2,186.3 303.0,186.3 303.8,186.3 304.5,186.3 305.2,186.2 306.0,186.2 306.8,186.2 307.5,186.2 308.2,186.2 309.0,186.2 309.8,186.2 310.5,186.2 311.2,186.1 312.0,186.1 312.8,186.1 313.5,186.0 314.2,186.0 315.0,186.0 315.8,185.9 316.5,185.9 317.2,185.8 318.0,185.8 318.8,185.7 319.5,185.6 320.2,185.5 321.0,185.4 321.8,185.3 322.5,185.2 323.2,185.1 324.0,185.0 324.8,184.8 325.5,184.6 326.2,184.4 327.0,184.2 327.8,184.0 328.5,183.8 329.2,183.5 330.0,183.2 330.8,182.9 331.5,182.5 332.2,182.1 333.0,181.7 333.8,181.2 334.5,180.7 335.2,180.2 336.0,179.6 336.8,179.0 337.5,178.3 338.2,177.6 339.0,176.9 339.8,176.0 340.5,175.2 341.2,174.2 342.0,173.2 342.8,172.2 343.5,171.0 344.2,169.8 345.0,168.6 345.8,167.3 346.5,165.8 347.2,164.4 348.0,162.8 348.8,161.2 349.5,159.5 350.2,157.7 351.0,155.9 351.8,153.9 352.5,151.9 353.2,149.8 354.0,147.7 354.8,145.5 355.5,143.2 356.2,140.8 357.0,138.4 357.8,136.0 358.5,133.5 359.2,130.9 360.0,128.3 360.8,125.7 361.5,123.0 362.2,120.3 363.0,117.7 363.8,115.0 364.5,112.3 365.2,109.6 366.0,106.9 366.8,104.3 367.5,101.7 368.2,99.2 369.0,96.7 369.8,94.3 370.5,92.0 371.2,89.7 372.0,87.6 372.8,85.6 373.5,83.7 374.2,81.9 375.0,80.3 375.8,78.9 376.5,77.5 377.2,76.4 378.0,75.4 378.8,74.7 379.5,74.1 380.2,73.7 381.0,73.6 381.8,73.7 382.5,73.9 383.2,74.4 384.0,74.9 384.8,75.7 385.5,76.6 386.2,77.7 387.0,78.9 387.8,80.2 388.5,81.7 389.2,83.3 390.0,85.1 390.8,87.0 391.5,89.0 392.2,91.0 393.0,93.2 393.8,95.5 394.5,97.8 395.2,100.2 396.0,102.7 396.8,105.2 397.5,107.8 398.2,110.4 399.0,113.0 399.8,115.7 400.5,118.3 401.2,120.9 402.0,123.6 402.8,126.2 403.5,128.8 404.2,131.3 405.0,133.9 405.8,136.4 406.5,138.8 407.2,141.2 408.0,143.5 408.8,145.8 409.5,148.0 410.2,150.1 411.0,152.2 411.8,154.2 412.5,156.1 413.2,158.0 414.0,159.8 414.8,161.5 415.5,163.1 416.2,164.7 417.0,166.2 417.8,167.6 418.5,168.9 419.2,170.2 420.0,171.4 420.8,172.5 421.5,173.5 422.2,174.5 423.0,175.5 423.8,176.4 424.5,177.2 425.2,177.9 426.0,178.7 426.8,179.3 427.5,179.9 428.2,180.5 429.0,181.0 429.8,181.5 430.5,182.0 431.2,182.4 432.0,182.7 432.8,183.1 433.5,183.4 434.2,183.7 435.0,184.0 435.8,184.2 436.5,184.4 437.2,184.6 438.0,184.8 438.8,185.0 439.5,185.1 440.2,185.2 441.0,185.4 441.8,185.5 442.5,185.6 443.2,185.6 444.0,185.7 444.8,185.8 445.5,185.9 446.2,185.9 447.0,186.0 447.8,186.0 448.5,186.0 449.2,186.1 450.0,186.1 450.8,186.1 451.5,186.1 452.2,186.2 453.0,186.2 453.8,186.2 454.5,186.2 455.2,186.2 456.0,186.2 456.8,186.2 457.5,186.3 458.2,186.3 459.0,186.3 459.8,186.3 460.5,186.3 461.2,186.3 462.0,186.3 462.8,186.3 463.5,186.3 464.2,186.3 465.0,186.3 465.8,186.3 466.5,186.3 467.2,186.3 468.0,186.3 468.8,186.3 469.5,186.3 470.2,186.3 471.0,186.3 471.8,186.3 472.5,186.3 473.2,186.3 474.0,186.3 474.8,186.3 475.5,186.3 476.2,186.3 477.0,186.3 477.8,186.3 478.5,186.3 479.2,186.3 480.0,186.3 480.8,186.3 481.5,186.3 482.2,186.3 483.0,186.3 483.8,186.3 484.5,186.3 485.2,186.3 486.0,186.3 486.8,186.3 487.5,186.3 488.2,186.3 489.0,186.3 489.8,186.3 490.5,186.3 491.2,186.3 492.0,186.3 492.8,186.3 493.5,186.3 494.2,186.3 495.0,186.3 495.8,186.3 496.5,186.3 497.2,186.3 498.0,186.3 498.8,186.3 499.5,186.3 500.2,186.3 501.0,186.3 501.8,186.3 502.5,186.3 503.2,186.3 504.0,186.3 504.8,186.3 505.5,186.3 506.2,186.3 507.0,186.3 507.8,186.3 508.5,186.3" stroke="#303030" stroke-width="0.85" fill="none" stroke-linejoin="round"/>
<path d="M295.5,186.3 296.2,186.3 297.0,186.3 297.8,186.3 298.5,186.3 299.2,186.3 300.0,186.3 300.8,186.3 301.5,186.3 302.2,186.3 303.0,186.3 303.8,186.3 304.5,186.3 305.2,186.3 306.0,186.3 306.8,186.3 307.5,186.3 308.2,186.2 309.0,186.2 309.8,186.2 310.5,186.2 311.2,186.2 312.0,186.2 312.8,186.2 313.5,186.2 314.2,186.1 315.0,186.1 315.8,186.1 316.5,186.1 317.2,186.0 318.0,186.0 318.8,185.9 319.5,185.9 320.2,185.8 321.0,185.8 321.8,185.7 322.5,185.6 323.2,185.6 324.0,185.5 324.8,185.4 325.5,185.3 326.2,185.1 327.0,185.0 327.8,184.9 328.5,184.7 329.2,184.5 330.0,184.3 330.8,184.1 331.5,183.9 332.2,183.6 333.0,183.3 333.8,183.0 334.5,182.7 335.2,182.3 336.0,181.9 336.8,181.5 337.5,181.0 338.2,180.5 339.0,180.0 339.8,179.4 340.5,178.8 341.2,178.1 342.0,177.4 342.8,176.6 343.5,175.8 344.2,175.0 345.0,174.0 345.8,173.1 346.5,172.0 347.2,170.9 348.0,169.8 348.8,168.6 349.5,167.3 350.2,165.9 351.0,164.5 351.8,163.1 352.5,161.5 353.2,159.9 354.0,158.3 354.8,156.5 355.5,154.7 356.2,152.9 357.0,150.9 357.8,149.0 358.5,146.9 359.2,144.8 360.0,142.7 360.8,140.5 361.5,138.3 362.2,136.0 363.0,133.7 363.8,131.4 364.5,129.0 365.2,126.7 366.0,124.3 366.8,121.9 367.5,119.5 368.2,117.1 369.0,114.7 369.8,112.3 370.5,110.0 371.2,107.7 372.0,105.5 372.8,103.3 373.5,101.1 374.2,99.0 375.0,97.0 375.8,95.1 376.5,93.3 377.2,91.5 378.0,89.9 378.8,88.3 379.5,86.9 380.2,85.6 381.0,84.4 381.8,83.3 382.5,82.4 383.2,81.6 384.0,81.0 384.8,80.5 385.5,80.1 386.2,79.9 387.0,79.8 387.8,79.9 388.5,80.1 389.2,80.5 390.0,81.0 390.8,81.6 391.5,82.4 392.2,83.4 393.0,84.4 393.8,85.6 394.5,87.0 395.2,88.4 396.0,90.0 396.8,91.6 397.5,93.4 398.2,95.2 399.0,97.2 399.8,99.2 400.5,101.3 401.2,103.5 402.0,105.7 402.8,108.0 403.5,110.3 404.2,112.6 405.0,115.0 405.8,117.4 406.5,119.8 407.2,122.2 408.0,124.6 408.8,127.0 409.5,129.4 410.2,131.7 411.0,134.1 411.8,136.4 412.5,138.7 413.2,140.9 414.0,143.1 414.8,145.2 415.5,147.3 416.2,149.4 417.0,151.3 417.8,153.3 418.5,155.1 419.2,156.9 420.0,158.6 420.8,160.3 421.5,161.9 422.2,163.4 423.0,164.9 423.8,166.3 424.5,167.6 425.2,168.9 426.0,170.1 426.8,171.2 427.5,172.3 428.2,173.3 429.0,174.3 429.8,175.2 430.5,176.1 431.2,176.9 432.0,177.6 432.8,178.3 433.5,179.0 434.2,179.6 435.0,180.1 435.8,180.7 436.5,181.2 437.2,181.6 438.0,182.0 438.8,182.4 439.5,182.8 440.2,183.1 441.0,183.4 441.8,183.7 442.5,183.9 443.2,184.2 444.0,184.4 444.8,184.6 445.5,184.8 446.2,184.9 447.0,185.1 447.8,185.2 448.5,185.3 449.2,185.4 450.0,185.5 450.8,185.6 451.5,185.7 452.2,185.8 453.0,185.8 453.8,185.9 454.5,185.9 455.2,186.0 456.0,186.0 456.8,186.0 457.5,186.1 458.2,186.1 459.0,186.1 459.8,186.1 460.5,186.2 461.2,186.2 462.0,186.2 462.8,186.2 463.5,186.2 464.2,186.2 465.0,186.2 465.8,186.3 466.5,186.3 467.2,186.3 468.0,186.3 468.8,186.3 469.5,186.3 470.2,186.3 471.0,186.3 471.8,186.3 472.5,186.3 473.2,186.3 474.0,186.3 474.8,186.3 475.5,186.3 476.2,186.3 477.0,186.3 477.8,186.3 478.5,186.3 479.2,186.3 480.0,186.3 480.8,186.3 481.5,186.3 482.2,186.3 483.0,186.3 483.8,186.3 484.5,186.3 485.2,186.3 486.0,186.3 486.8,186.3 487.5,186.3 488.2,186.3 489.0,186.3 489.8,186.3 490.5,186.3 491.2,186.3 492.0,186.3 492.8,186.3 493.5,186.3 494.2,186.3 495.0,186.3 495.8,186.3 496.5,186.3 497.2,186.3 498.0,186.3 498.8,186.3 499.5,186.3 500.2,186.3 501.0,186.3 501.8,186.3 502.5,186.3 503.2,186.3 504.0,186.3 504.8,186.3 505.5,186.3 506.2,186.3 507.0,186.3 507.8,186.3 508.5,186.3" stroke="#303030" stroke-width="0.85" fill="none" stroke-linejoin="round"/>
<path d="M295.5,186.3 296.2,186.3 297.0,186.3 297.8,186.3 298.5,186.3 299.2,186.3 300.0,186.3 300.8,186.3 301.5,186.3 302.2,186.3 303.0,186.3 303.8,186.3 304.5,186.3 305.2,186.3 306.0,186.3 306.8,186.3 307.5,186.3 308.2,186.3 309.0,186.2 309.8,186.2 310.5,186.2 311.2,186.2 312.0,186.2 312.8,186.2 313.5,186.2 314.2,186.2 315.0,186.1 315.8,186.1 316.5,186.1 317.2,186.1 318.0,186.0 318.8,186.0 319.5,186.0 320.2,185.9 321.0,185.9 321.8,185.8 322.5,185.8 323.2,185.7 324.0,185.7 324.8,185.6 325.5,185.5 326.2,185.4 327.0,185.3 327.8,185.2 328.5,185.1 329.2,185.0 330.0,184.8 330.8,184.7 331.5,184.5 332.2,184.3 333.0,184.1 333.8,183.9 334.5,183.6 335.2,183.4 336.0,183.1 336.8,182.8 337.5,182.5 338.2,182.1 339.0,181.7 339.8,181.3 340.5,180.9 341.2,180.4 342.0,179.9 342.8,179.3 343.5,178.8 344.2,178.1 345.0,177.5 345.8,176.8 346.5,176.0 347.2,175.2 348.0,174.4 348.8,173.5 349.5,172.6 350.2,171.6 351.0,170.6 351.8,169.5 352.5,168.4 353.2,167.2 354.0,165.9 354.8,164.6 355.5,163.3 356.2,161.8 357.0,160.4 357.8,158.9 358.5,157.3 359.2,155.7 360.0,154.0 360.8,152.3 361.5,150.5 362.2,148.7 363.0,146.8 363.8,144.9 364.5,142.9 365.2,140.9 366.0,138.9 366.8,136.9 367.5,134.8 368.2,132.7 369.0,130.6 369.8,128.4 370.5,126.3 371.2,124.1 372.0,122.0 372.8,119.9 373.5,117.7 374.2,115.6 375.0,113.6 375.8,111.5 376.5,109.5 377.2,107.5 378.0,105.6 378.8,103.7 379.5,101.9 380.2,100.2 381.0,98.5 381.8,96.9 382.5,95.4 383.2,94.0 384.0,92.6 384.8,91.4 385.5,90.2 386.2,89.2 387.0,88.3 387.8,87.4 388.5,86.7 389.2,86.2 390.0,85.7 390.8,85.3 391.5,85.1 392.2,85.0 393.0,85.0 393.8,85.2 394.5,85.5 395.2,85.9 396.0,86.4 396.8,87.0 397.5,87.8 398.2,88.7 399.0,89.7 399.8,90.8 400.5,92.0 401.2,93.3 402.0,94.8 402.8,96.3 403.5,97.9 404.2,99.5 405.0,101.3 405.8,103.1 406.5,105.0 407.2,107.0 408.0,109.0 408.8,111.0 409.5,113.1 410.2,115.2 411.0,117.3 411.8,119.5 412.5,121.7 413.2,123.8 414.0,126.0 414.8,128.2 415.5,130.4 416.2,132.5 417.0,134.7 417.8,136.8 418.5,138.9 419.2,140.9 420.0,143.0 420.8,145.0 421.5,146.9 422.2,148.8 423.0,150.7 423.8,152.5 424.5,154.2 425.2,155.9 426.0,157.6 426.8,159.2 427.5,160.7 428.2,162.2 429.0,163.6 429.8,165.0 430.5,166.3 431.2,167.5 432.0,168.7 432.8,169.9 433.5,171.0 434.2,172.0 435.0,173.0 435.8,173.9 436.5,174.8 437.2,175.6 438.0,176.4 438.8,177.1 439.5,177.8 440.2,178.5 441.0,179.1 441.8,179.7 442.5,180.2 443.2,180.7 444.0,181.1 444.8,181.6 445.5,182.0 446.2,182.4 447.0,182.7 447.8,183.0 448.5,183.3 449.2,183.6 450.0,183.8 450.8,184.1 451.5,184.3 452.2,184.5 453.0,184.6 453.8,184.8 454.5,184.9 455.2,185.1 456.0,185.2 456.8,185.3 457.5,185.4 458.2,185.5 459.0,185.6 459.8,185.7 460.5,185.7 461.2,185.8 462.0,185.9 462.8,185.9 463.5,185.9 464.2,186.0 465.0,186.0 465.8,186.1 466.5,186.1 467.2,186.1 468.0,186.1 468.8,186.2 469.5,186.2 470.2,186.2 471.0,186.2 471.8,186.2 472.5,186.2 473.2,186.2 474.0,186.2 474.8,186.2 475.5,186.3 476.2,186.3 477.0,186.3 477.8,186.3 478.5,186.3 479.2,186.3 480.0,186.3 480.8,186.3 481.5,186.3 482.2,186.3 483.0,186.3 483.8,186.3 484.5,186.3 485.2,186.3 486.0,186.3 486.8,186.3 487.5,186.3 488.2,186.3 489.0,186.3 489.8,186.3 490.5,186.3 491.2,186.3 492.0,186.3 492.8,186.3 493.5,186.3 494.2,186.3 495.0,186.3 495.8,186.3 496.5,186.3 497.2,186.3 498.0,186.3 498.8,186.3 499.5,186.3 500.2,186.3 501.0,186.3 501.8,186.3 502.5,186.3 503.2,186.3 504.0,186.3 504.8,186.3 505.5,186.3 506.2,186.3 507.0,186.3 507.8,186.3 508.5,186.3" stroke="#303030" stroke-width="0.85" fill="none" stroke-linejoin="round"/>
<path d="M295.5,186.3 296.2,186.3 297.0,186.3 297.8,186.3 298.5,186.3 299.2,186.3 300.0,186.3 300.8,186.3 301.5,186.3 302.2,186.3 303.0,186.3 303.8,186.3 304.5,186.3 305.2,186.3 306.0,186.3 306.8,186.3 307.5,186.3 308.2,186.3 309.0,186.3 309.8,186.2 310.5,186.2 311.2,186.2 312.0,186.2 312.8,186.2 313.5,186.2 314.2,186.2 315.0,186.2 315.8,186.2 316.5,186.1 317.2,186.1 318.0,186.1 318.8,186.1 319.5,186.1 320.2,186.0 321.0,186.0 321.8,186.0 322.5,185.9 323.2,185.9 324.0,185.8 324.8,185.8 325.5,185.7 326.2,185.6 327.0,185.6 327.8,185.5 328.5,185.4 329.2,185.3 330.0,185.2 330.8,185.1 331.5,185.0 332.2,184.8 333.0,184.7 333.8,184.5 334.5,184.4 335.2,184.2 336.0,184.0 336.8,183.7 337.5,183.5 338.2,183.2 339.0,183.0 339.8,182.7 340.5,182.4 341.2,182.0 342.0,181.6 342.8,181.3 343.5,180.8 344.2,180.4 345.0,179.9 345.8,179.4 346.5,178.9 347.2,178.3 348.0,177.7 348.8,177.0 349.5,176.4 350.2,175.6 351.0,174.9 351.8,174.1 352.5,173.2 353.2,172.3 354.0,171.4 354.8,170.4 355.5,169.4 356.2,168.3 357.0,167.2 357.8,166.1 358.5,164.8 359.2,163.6 360.0,162.3 360.8,160.9 361.5,159.5 362.2,158.1 363.0,156.6 363.8,155.1 364.5,153.5 365.2,151.9 366.0,150.2 366.8,148.5 367.5,146.8 368.2,145.0 369.0,143.2 369.8,141.4 370.5,139.5 371.2,137.6 372.0,135.7 372.8,133.8 373.5,131.8 374.2,129.9 375.0,127.9 375.8,126.0 376.5,124.0 377.2,122.1 378.0,120.2 378.8,118.2 379.5,116.4 380.2,114.5 381.0,112.6 381.8,110.8 382.5,109.1 383.2,107.4 384.0,105.7 384.8,104.1 385.5,102.5 386.2,101.0 387.0,99.6 387.8,98.2 388.5,97.0 389.2,95.8 390.0,94.7 390.8,93.6 391.5,92.7 392.2,91.9 393.0,91.1 393.8,90.5 394.5,90.0 395.2,89.5 396.0,89.2 396.8,88.9 397.5,88.8 398.2,88.8 399.0,88.9 399.8,89.1 400.5,89.5 401.2,89.9 402.0,90.5 402.8,91.2 403.5,91.9 404.2,92.8 405.0,93.8 405.8,94.9 406.5,96.1 407.2,97.4 408.0,98.8 408.8,100.3 409.5,101.8 410.2,103.4 411.0,105.1 411.8,106.8 412.5,108.6 413.2,110.5 414.0,112.4 414.8,114.3 415.5,116.3 416.2,118.3 417.0,120.3 417.8,122.4 418.5,124.4 419.2,126.5 420.0,128.5 420.8,130.6 421.5,132.6 422.2,134.7 423.0,136.7 423.8,138.7 424.5,140.7 425.2,142.6 426.0,144.5 426.8,146.4 427.5,148.3 428.2,150.1 429.0,151.8 429.8,153.5 430.5,155.2 431.2,156.8 432.0,158.4 432.8,159.9 433.5,161.4 434.2,162.8 435.0,164.1 435.8,165.4 436.5,166.7 437.2,167.9 438.0,169.0 438.8,170.1 439.5,171.2 440.2,172.2 441.0,173.1 441.8,174.0 442.5,174.9 443.2,175.7 444.0,176.4 444.8,177.1 445.5,177.8 446.2,178.4 447.0,179.0 447.8,179.6 448.5,180.1 449.2,180.6 450.0,181.1 450.8,181.5 451.5,181.9 452.2,182.3 453.0,182.6 453.8,182.9 454.5,183.2 455.2,183.5 456.0,183.7 456.8,184.0 457.5,184.2 458.2,184.4 459.0,184.6 459.8,184.7 460.5,184.9 461.2,185.0 462.0,185.1 462.8,185.3 463.5,185.4 464.2,185.5 465.0,185.5 465.8,185.6 466.5,185.7 467.2,185.8 468.0,185.8 468.8,185.9 469.5,185.9 470.2,186.0 471.0,186.0 471.8,186.0 472.5,186.1 473.2,186.1 474.0,186.1 474.8,186.1 475.5,186.2 476.2,186.2 477.0,186.2 477.8,186.2 478.5,186.2 479.2,186.2 480.0,186.2 480.8,186.2 481.5,186.2 482.2,186.3 483.0,186.3 483.8,186.3 484.5,186.3 485.2,186.3 486.0,186.3 486.8,186.3 487.5,186.3 488.2,186.3 489.0,186.3 489.8,186.3 490.5,186.3 491.2,186.3 492.0,186.3 492.8,186.3 493.5,186.3 494.2,186.3 495.0,186.3 495.8,186.3 496.5,186.3 497.2,186.3 498.0,186.3 498.8,186.3 499.5,186.3 500.2,186.3 501.0,186.3 501.8,186.3 502.5,186.3 503.2,186.3 504.0,186.3 504.8,186.3 505.5,186.3 506.2,186.3 507.0,186.3 507.8,186.3 508.5,186.3" stroke="#303030" stroke-width="0.85" fill="none" stroke-linejoin="round"/>
<path d="M295.5,186.3 296.2,186.3 297.0,186.3 297.8,186.3 298.5,186.3 299.2,186.3 300.0,186.3 300.8,186.3 301.5,186.3 302.2,186.3 303.0,186.3 303.8,186.3 304.5,186.3 305.2,186.3 306.0,186.3 306.8,186.3 307.5,186.3 308.2,186.3 309.0,186.3 309.8,186.3 310.5,186.3 311.2,186.3 312.0,186.3 312.8,186.2 313.5,186.2 314.2,186.2 315.0,186.2 315.8,186.2 316.5,186.2 317.2,186.2 318.0,186.2 318.8,186.2 319.5,186.1 320.2,186.1 321.0,186.1 321.8,186.1 322.5,186.0 323.2,186.0 324.0,186.0 324.8,185.9 325.5,185.9 326.2,185.9 327.0,185.8 327.8,185.8 328.5,185.7 329.2,185.6 330.0,185.6 330.8,185.5 331.5,185.4 332.2,185.3 333.0,185.2 333.8,185.1 334.5,185.0 335.2,184.9 336.0,184.7 336.8,184.6 337.5,184.4 338.2,184.2 339.0,184.1 339.8,183.9 340.5,183.6 341.2,183.4 342.0,183.1 342.8,182.9 343.5,182.6 344.2,182.3 345.0,181.9 345.8,181.6 346.5,181.2 347.2,180.8 348.0,180.3 348.8,179.9 349.5,179.4 350.2,178.9 351.0,178.3 351.8,177.7 352.5,177.1 353.2,176.5 354.0,175.8 354.8,175.0 355.5,174.3 356.2,173.5 357.0,172.6 357.8,171.8 358.5,170.8 359.2,169.9 360.0,168.9 360.8,167.8 361.5,166.7 362.2,165.6 363.0,164.4 363.8,163.2 364.5,161.9 365.2,160.6 366.0,159.3 366.8,157.9 367.5,156.5 368.2,155.0 369.0,153.5 369.8,151.9 370.5,150.4 371.2,148.7 372.0,147.1 372.8,145.4 373.5,143.7 374.2,142.0 375.0,140.2 375.8,138.4 376.5,136.6 377.2,134.8 378.0,133.0 378.8,131.2 379.5,129.3 380.2,127.5 381.0,125.7 381.8,123.9 382.5,122.1 383.2,120.3 384.0,118.5 384.8,116.7 385.5,115.0 386.2,113.3 387.0,111.7 387.8,110.0 388.5,108.5 389.2,107.0 390.0,105.5 390.8,104.1 391.5,102.7 392.2,101.4 393.0,100.2 393.8,99.1 394.5,98.0 395.2,97.0 396.0,96.1 396.8,95.3 397.5,94.6 398.2,93.9 399.0,93.4 399.8,92.9 400.5,92.5 401.2,92.3 402.0,92.1 402.8,92.0 403.5,92.0 404.2,92.1 405.0,92.4 405.8,92.7 406.5,93.1 407.2,93.6 408.0,94.2 408.8,95.0 409.5,95.8 410.2,96.6 411.0,97.6 411.8,98.7 412.5,99.8 413.2,101.1 414.0,102.4 414.8,103.7 415.5,105.2 416.2,106.7 417.0,108.2 417.8,109.8 418.5,111.5 419.2,113.2 420.0,114.9 420.8,116.7 421.5,118.5 422.2,120.3 423.0,122.1 423.8,124.0 424.5,125.8 425.2,127.7 426.0,129.6 426.8,131.5 427.5,133.4 428.2,135.2 429.0,137.1 429.8,138.9 430.5,140.7 431.2,142.5 432.0,144.3 432.8,146.0 433.5,147.8 434.2,149.4 435.0,151.1 435.8,152.7 436.5,154.3 437.2,155.8 438.0,157.3 438.8,158.7 439.5,160.1 440.2,161.5 441.0,162.8 441.8,164.1 442.5,165.3 443.2,166.4 444.0,167.6 444.8,168.7 445.5,169.7 446.2,170.7 447.0,171.7 447.8,172.6 448.5,173.4 449.2,174.3 450.0,175.0 450.8,175.8 451.5,176.5 452.2,177.2 453.0,177.8 453.8,178.4 454.5,178.9 455.2,179.5 456.0,180.0 456.8,180.4 457.5,180.9 458.2,181.3 459.0,181.7 459.8,182.0 460.5,182.4 461.2,182.7 462.0,183.0 462.8,183.3 463.5,183.5 464.2,183.7 465.0,184.0 465.8,184.2 466.5,184.3 467.2,184.5 468.0,184.7 468.8,184.8 469.5,185.0 470.2,185.1 471.0,185.2 471.8,185.3 472.5,185.4 473.2,185.5 474.0,185.6 474.8,185.6 475.5,185.7 476.2,185.8 477.0,185.8 477.8,185.9 478.5,185.9 479.2,185.9 480.0,186.0 480.8,186.0 481.5,186.0 482.2,186.1 483.0,186.1 483.8,186.1 484.5,186.1 485.2,186.2 486.0,186.2 486.8,186.2 487.5,186.2 488.2,186.2 489.0,186.2 489.8,186.2 490.5,186.2 491.2,186.2 492.0,186.3 492.8,186.3 493.5,186.3 494.2,186.3 495.0,186.3 495.8,186.3 496.5,186.3 497.2,186.3 498.0,186.3 498.8,186.3 499.5,186.3 500.2,186.3 501.0,186.3 501.8,186.3 502.5,186.3 503.2,186.3 504.0,186.3 504.8,186.3 505.5,186.3 506.2,186.3 507.0,186.3 507.8,186.3 508.5,186.3" stroke="#303030" stroke-width="0.85" fill="none" stroke-linejoin="round"/>
<path d="M295.5,186.3 296.2,186.3 297.0,186.3 297.8,186.3 298.5,186.3 299.2,186.3 300.0,186.3 300.8,186.3 301.5,186.3 302.2,186.3 303.0,186.3 303.8,186.3 304.5,186.3 305.2,186.3 306.0,186.3 306.8,186.3 307.5,186.3 308.2,186.3 309.0,186.3 309.8,186.3 310.5,186.3 311.2,186.3 312.0,186.3 312.8,186.2 313.5,186.2 314.2,186.2 315.0,186.2 315.8,186.2 316.5,186.2 317.2,186.2 318.0,186.2 318.8,186.2 319.5,186.2 320.2,186.1 321.0,186.1 321.8,186.1 322.5,186.1 323.2,186.1 324.0,186.0 324.8,186.0 325.5,186.0 326.2,186.0 327.0,185.9 327.8,185.9 328.5,185.8 329.2,185.8 330.0,185.7 330.8,185.7 331.5,185.6 332.2,185.6 333.0,185.5 333.8,185.4 334.5,185.3 335.2,185.3 336.0,185.2 336.8,185.1 337.5,184.9 338.2,184.8 339.0,184.7 339.8,184.6 340.5,184.4 341.2,184.3 342.0,184.1 342.8,183.9 343.5,183.7 344.2,183.5 345.0,183.3 345.8,183.0 346.5,182.8 347.2,182.5 348.0,182.2 348.8,181.9 349.5,181.6 350.2,181.2 351.0,180.9 351.8,180.5 352.5,180.1 353.2,179.6 354.0,179.2 354.8,178.7 355.5,178.2 356.2,177.6 357.0,177.1 357.8,176.5 358.5,175.9 359.2,175.2 360.0,174.5 360.8,173.8 361.5,173.1 362.2,172.3 363.0,171.5 363.8,170.7 364.5,169.8 365.2,168.9 366.0,167.9 366.8,167.0 367.5,166.0 368.2,164.9 369.0,163.8 369.8,162.7 370.5,161.6 371.2,160.4 372.0,159.2 372.8,158.0 373.5,156.7 374.2,155.4 375.0,154.1 375.8,152.7 376.5,151.3 377.2,149.9 378.0,148.5 378.8,147.1 379.5,145.6 380.2,144.1 381.0,142.6 381.8,141.1 382.5,139.5 383.2,138.0 384.0,136.4 384.8,134.9 385.5,133.3 386.2,131.8 387.0,130.2 387.8,128.7 388.5,127.1 389.2,125.6 390.0,124.1 390.8,122.6 391.5,121.1 392.2,119.7 393.0,118.2 393.8,116.8 394.5,115.5 395.2,114.2 396.0,112.9 396.8,111.6 397.5,110.4 398.2,109.3 399.0,108.2 399.8,107.2 400.5,106.2 401.2,105.2 402.0,104.4 402.8,103.6 403.5,102.8 404.2,102.1 405.0,101.5 405.8,101.0 406.5,100.5 407.2,100.1 408.0,99.8 408.8,99.6 409.5,99.4 410.2,99.3 411.0,99.3 411.8,99.4 412.5,99.5 413.2,99.8 414.0,100.1 414.8,100.5 415.5,101.0 416.2,101.5 417.0,102.2 417.8,102.9 418.5,103.7 419.2,104.5 420.0,105.5 420.8,106.5 421.5,107.5 422.2,108.7 423.0,109.8 423.8,111.1 424.5,112.4 425.2,113.7 426.0,115.1 426.8,116.5 427.5,118.0 428.2,119.5 429.0,121.0 429.8,122.6 430.5,124.2 431.2,125.8 432.0,127.4 432.8,129.0 433.5,130.7 434.2,132.3 435.0,134.0 435.8,135.6 436.5,137.3 437.2,138.9 438.0,140.5 438.8,142.1 439.5,143.7 440.2,145.3 441.0,146.9 441.8,148.4 442.5,149.9 443.2,151.4 444.0,152.9 444.8,154.3 445.5,155.7 446.2,157.1 447.0,158.4 447.8,159.7 448.5,161.0 449.2,162.2 450.0,163.4 450.8,164.5 451.5,165.6 452.2,166.7 453.0,167.8 453.8,168.8 454.5,169.7 455.2,170.6 456.0,171.5 456.8,172.4 457.5,173.2 458.2,174.0 459.0,174.7 459.8,175.4 460.5,176.1 461.2,176.8 462.0,177.4 462.8,177.9 463.5,178.5 464.2,179.0 465.0,179.5 465.8,180.0 466.5,180.4 467.2,180.8 468.0,181.2 468.8,181.6 469.5,181.9 470.2,182.3 471.0,182.6 471.8,182.8 472.5,183.1 473.2,183.4 474.0,183.6 474.8,183.8 475.5,184.0 476.2,184.2 477.0,184.4 477.8,184.5 478.5,184.7 479.2,184.8 480.0,184.9 480.8,185.1 481.5,185.2 482.2,185.3 483.0,185.4 483.8,185.4 484.5,185.5 485.2,185.6 486.0,185.7 486.8,185.7 487.5,185.8 488.2,185.8 489.0,185.9 489.8,185.9 490.5,185.9 491.2,186.0 492.0,186.0 492.8,186.0 493.5,186.1 494.2,186.1 495.0,186.1 495.8,186.1 496.5,186.2 497.2,186.2 498.0,186.2 498.8,186.2 499.5,186.2 500.2,186.2 501.0,186.2 501.8,186.2 502.5,186.2 503.2,186.2 504.0,186.3 504.8,186.3 505.5,186.3 506.2,186.3 507.0,186.3 507.8,186.3 508.5,186.3" stroke="#303030" stroke-width="0.85" fill="none" stroke-linejoin="round"/>
<path d="M295.5,186.3 296.2,186.3 297.0,186.3 297.8,186.3 298.5,186.3 299.2,186.3 300.0,186.3 300.8,186.3 301.5,186.3 302.2,186.3 303.0,186.3 303.8,186.3 304.5,186.3 305.2,186.3 306.0,186.3 306.8,186.3 307.5,186.3 308.2,186.3 309.0,186.3 309.8,186.3 310.5,186.3 311.2,186.3 312.0,186.3 312.8,186.3 313.5,186.3 314.2,186.3 315.0,186.3 315.8,186.3 316.5,186.3 317.2,186.3 318.0,186.3 318.8,186.3 319.5,186.3 320.2,186.3 321.0,186.3 321.8,186.3 322.5,186.3 323.2,186.3 324.0,186.2 324.8,186.2 325.5,186.2 326.2,186.2 327.0,186.2 327.8,186.2 328.5,186.2 329.2,186.2 330.0,186.2 330.8,186.2 331.5,186.1 332.2,186.1 333.0,186.1 333.8,186.1 334.5,186.1 335.2,186.0 336.0,186.0 336.8,186.0 337.5,186.0 338.2,185.9 339.0,185.9 339.8,185.9 340.5,185.8 341.2,185.8 342.0,185.7 342.8,185.7 343.5,185.6 344.2,185.5 345.0,185.5 345.8,185.4 346.5,185.3 347.2,185.2 348.0,185.1 348.8,185.0 349.5,184.9 350.2,184.8 351.0,184.7 351.8,184.5 352.5,184.4 353.2,184.2 354.0,184.1 354.8,183.9 355.5,183.7 356.2,183.5 357.0,183.3 357.8,183.1 358.5,182.8 359.2,182.6 360.0,182.3 360.8,182.0 361.5,181.7 362.2,181.4 363.0,181.0 363.8,180.7 364.5,180.3 365.2,179.9 366.0,179.5 366.8,179.0 367.5,178.6 368.2,178.1 369.0,177.6 369.8,177.0 370.5,176.4 371.2,175.9 372.0,175.2 372.8,174.6 373.5,173.9 374.2,173.2 375.0,172.5 375.8,171.7 376.5,171.0 377.2,170.1 378.0,169.3 378.8,168.4 379.5,167.5 380.2,166.6 381.0,165.6 381.8,164.6 382.5,163.6 383.2,162.6 384.0,161.5 384.8,160.4 385.5,159.3 386.2,158.1 387.0,157.0 387.8,155.8 388.5,154.5 389.2,153.3 390.0,152.0 390.8,150.7 391.5,149.4 392.2,148.1 393.0,146.8 393.8,145.4 394.5,144.1 395.2,142.7 396.0,141.3 396.8,140.0 397.5,138.6 398.2,137.2 399.0,135.8 399.8,134.4 400.5,133.1 401.2,131.7 402.0,130.4 402.8,129.0 403.5,127.7 404.2,126.4 405.0,125.1 405.8,123.9 406.5,122.6 407.2,121.4 408.0,120.3 408.8,119.1 409.5,118.1 410.2,117.0 411.0,116.0 411.8,115.0 412.5,114.1 413.2,113.2 414.0,112.4 414.8,111.6 415.5,110.9 416.2,110.2 417.0,109.6 417.8,109.1 418.5,108.6 419.2,108.2 420.0,107.8 420.8,107.5 421.5,107.3 422.2,107.1 423.0,107.0 423.8,107.0 424.5,107.0 425.2,107.1 426.0,107.3 426.8,107.5 427.5,107.8 428.2,108.1 429.0,108.5 429.8,109.0 430.5,109.5 431.2,110.1 432.0,110.7 432.8,111.4 433.5,112.2 434.2,113.0 435.0,113.8 435.8,114.7 436.5,115.7 437.2,116.7 438.0,117.7 438.8,118.7 439.5,119.9 440.2,121.0 441.0,122.2 441.8,123.4 442.5,124.6 443.2,125.8 444.0,127.1 444.8,128.4 445.5,129.7 446.2,131.1 447.0,132.4 447.8,133.8 448.5,135.1 449.2,136.5 450.0,137.8 450.8,139.2 451.5,140.6 452.2,141.9 453.0,143.3 453.8,144.6 454.5,146.0 455.2,147.3 456.0,148.6 456.8,149.9 457.5,151.2 458.2,152.5 459.0,153.7 459.8,154.9 460.5,156.1 461.2,157.3 462.0,158.5 462.8,159.6 463.5,160.7 464.2,161.8 465.0,162.8 465.8,163.9 466.5,164.9 467.2,165.8 468.0,166.8 468.8,167.7 469.5,168.6 470.2,169.4 471.0,170.3 471.8,171.1 472.5,171.8 473.2,172.6 474.0,173.3 474.8,174.0 475.5,174.6 476.2,175.3 477.0,175.9 477.8,176.5 478.5,177.0 479.2,177.6 480.0,178.1 480.8,178.6 481.5,179.0 482.2,179.5 483.0,179.9 483.8,180.3 484.5,180.7 485.2,181.0 486.0,181.4 486.8,181.7 487.5,182.0 488.2,182.3 489.0,182.5 489.8,182.8 490.5,183.0 491.2,183.3 492.0,183.5 492.8,183.7 493.5,183.9 494.2,184.0 495.0,184.2 495.8,184.4 496.5,184.5 497.2,184.6 498.0,184.8 498.8,184.9 499.5,185.0 500.2,185.1 501.0,185.2 501.8,185.3 502.5,185.4 503.2,185.4 504.0,185.5 504.8,185.6 505.5,185.6 506.2,185.7 507.0,185.7 507.8,185.8 508.5,185.8" stroke="#303030" stroke-width="0.85" fill="none" stroke-linejoin="round"/>
<text x="297.50" y="44.80" font-size="12.5" text-anchor="start" font-weight="bold">ii</text>
<text x="508.60" y="43.90" font-size="14" text-anchor="end">Vanadate</text>
<text x="411.80" y="64.80" font-size="12.2" text-anchor="start">Time</text>
<line x1="391.40" y1="70.10" x2="456.50" y2="70.10" stroke="#808080" stroke-width="1.6"/>
<path d="M403.9,66.4 390.4,70.1 403.9,73.8" stroke="#808080" stroke-width="1.0" fill="none" stroke-linejoin="round"/>
<text x="2.30" y="14.90" font-size="16" text-anchor="start" font-weight="bold">A</text>
<text x="1.90" y="233.90" font-size="16.6" text-anchor="start" font-weight="bold">B</text>
<text transform="translate(8.7,108.8) rotate(-90)" font-size="10.1" text-anchor="middle">Frequency distribution (arbitrary scale)</text>
<text x="264.20" y="219.80" font-size="13.8" text-anchor="middle">V (fL)</text>
<rect x="39.20" y="236.60" width="218.10" height="157.90" stroke="#8c8c8c" stroke-width="1" fill="none"/>
<line x1="36.40" y1="394.50" x2="39.20" y2="394.50" stroke="#777" stroke-width="0.8"/>
<text x="31.40" y="398.10" font-size="10" text-anchor="end">30</text>
<line x1="36.40" y1="365.85" x2="39.20" y2="365.85" stroke="#777" stroke-width="0.8"/>
<text x="31.40" y="369.45" font-size="10" text-anchor="end">40</text>
<line x1="36.40" y1="337.20" x2="39.20" y2="337.20" stroke="#777" stroke-width="0.8"/>
<text x="31.40" y="340.80" font-size="10" text-anchor="end">50</text>
<line x1="36.40" y1="308.55" x2="39.20" y2="308.55" stroke="#777" stroke-width="0.8"/>
<text x="31.40" y="312.15" font-size="10" text-anchor="end">60</text>
<line x1="36.40" y1="279.90" x2="39.20" y2="279.90" stroke="#777" stroke-width="0.8"/>
<text x="31.40" y="283.50" font-size="10" text-anchor="end">70</text>
<line x1="36.40" y1="251.25" x2="39.20" y2="251.25" stroke="#777" stroke-width="0.8"/>
<text x="31.40" y="254.85" font-size="10" text-anchor="end">80</text>
<line x1="39.60" y1="394.50" x2="39.60" y2="396.70" stroke="#777" stroke-width="0.8"/>
<line x1="59.40" y1="394.50" x2="59.40" y2="396.70" stroke="#777" stroke-width="0.8"/>
<text x="59.40" y="410.60" font-size="10" text-anchor="middle">0</text>
<line x1="79.20" y1="394.50" x2="79.20" y2="396.70" stroke="#777" stroke-width="0.8"/>
<line x1="99.00" y1="394.50" x2="99.00" y2="396.70" stroke="#777" stroke-width="0.8"/>
<text x="99.00" y="410.60" font-size="10" text-anchor="middle">1</text>
<line x1="118.80" y1="394.50" x2="118.80" y2="396.70" stroke="#777" stroke-width="0.8"/>
<line x1="138.60" y1="394.50" x2="138.60" y2="396.70" stroke="#777" stroke-width="0.8"/>
<text x="138.60" y="410.60" font-size="10" text-anchor="middle">2</text>
<line x1="158.40" y1="394.50" x2="158.40" y2="396.70" stroke="#777" stroke-width="0.8"/>
<line x1="178.20" y1="394.50" x2="178.20" y2="396.70" stroke="#777" stroke-width="0.8"/>
<text x="178.20" y="410.60" font-size="10" text-anchor="middle">3</text>
<line x1="198.00" y1="394.50" x2="198.00" y2="396.70" stroke="#777" stroke-width="0.8"/>
<line x1="217.80" y1="394.50" x2="217.80" y2="396.70" stroke="#777" stroke-width="0.8"/>
<text x="217.80" y="410.60" font-size="10" text-anchor="middle">4</text>
<line x1="237.60" y1="394.50" x2="237.60" y2="396.70" stroke="#777" stroke-width="0.8"/>
<line x1="257.40" y1="394.50" x2="257.40" y2="396.70" stroke="#777" stroke-width="0.8"/>
<text x="257.40" y="410.60" font-size="10" text-anchor="middle">5</text>
<path d="M59.0,248.1 69.2,259.3 88.7,265.0 109.4,272.0 129.3,277.3 148.8,281.6 168.2,284.6 187.8,286.9 208.5,287.4 228.4,287.6 248.5,287.4" stroke="#555" stroke-width="0.8" fill="none" stroke-linejoin="round"/>
<path d="M58.9,384.3 69.0,380.3 88.7,376.9 109.7,374.3 129.3,369.0 149.0,369.5 168.4,367.6 188.1,364.0 208.6,364.8 228.6,364.2 248.4,364.2" stroke="#555" stroke-width="0.8" fill="none" stroke-linejoin="round"/>
<circle cx="59.00" cy="248.10" r="3.6" fill="#000"/>
<circle cx="69.20" cy="259.30" r="3.6" fill="#000"/>
<circle cx="88.70" cy="265.00" r="3.6" fill="#000"/>
<circle cx="109.40" cy="272.00" r="3.6" fill="#000"/>
<circle cx="129.30" cy="277.30" r="3.6" fill="#000"/>
<circle cx="148.80" cy="281.60" r="3.6" fill="#000"/>
<circle cx="168.20" cy="284.60" r="3.6" fill="#000"/>
<circle cx="187.80" cy="286.90" r="3.6" fill="#000"/>
<circle cx="208.50" cy="287.40" r="3.6" fill="#000"/>
<circle cx="228.40" cy="287.60" r="3.6" fill="#000"/>
<circle cx="248.50" cy="287.40" r="3.6" fill="#000"/>
<circle cx="58.90" cy="384.30" r="3.3" fill="#fff" stroke="#333" stroke-width="0.85"/>
<circle cx="69.00" cy="380.30" r="3.3" fill="#fff" stroke="#333" stroke-width="0.85"/>
<circle cx="88.70" cy="376.90" r="3.3" fill="#fff" stroke="#333" stroke-width="0.85"/>
<circle cx="109.70" cy="374.30" r="3.3" fill="#fff" stroke="#333" stroke-width="0.85"/>
<circle cx="129.30" cy="369.00" r="3.3" fill="#fff" stroke="#333" stroke-width="0.85"/>
<circle cx="149.00" cy="369.50" r="3.3" fill="#fff" stroke="#333" stroke-width="0.85"/>
<circle cx="168.40" cy="367.60" r="3.3" fill="#fff" stroke="#333" stroke-width="0.85"/>
<circle cx="188.10" cy="364.00" r="3.3" fill="#fff" stroke="#333" stroke-width="0.85"/>
<circle cx="208.60" cy="364.80" r="3.3" fill="#fff" stroke="#333" stroke-width="0.85"/>
<circle cx="228.60" cy="364.20" r="3.3" fill="#fff" stroke="#333" stroke-width="0.85"/>
<circle cx="248.40" cy="364.20" r="3.3" fill="#fff" stroke="#333" stroke-width="0.85"/>
<text x="43.20" y="249.00" font-size="12.5" text-anchor="start" font-weight="bold">i</text>
<text x="253.80" y="386.80" font-size="14" text-anchor="end">Control</text>
<rect x="182.20" y="238.00" width="70.00" height="28.80" stroke="#9a9a9a" stroke-width="1" fill="none"/>
<line x1="182.20" y1="267.40" x2="252.70" y2="267.40" stroke="#b4b4b4" stroke-width="0.9"/>
<circle cx="195.10" cy="247.70" r="3.4" fill="#000"/>
<circle cx="195.10" cy="257.30" r="3.2" fill="#fff" stroke="#333" stroke-width="0.8"/>
<text x="206.00" y="250.30" font-size="6.9" text-anchor="start">MCV (fL)</text>
<text x="206.00" y="259.70" font-size="6.9" text-anchor="start">MCHC (g/dL)</text>
<rect x="74.50" y="304.10" width="112.70" height="30.90" stroke="#9a9a9a" stroke-width="1" fill="none"/>
<line x1="72.50" y1="330.80" x2="74.50" y2="330.80" stroke="#777" stroke-width="0.7"/>
<text x="69.90" y="333.20" font-size="6.8" text-anchor="end">8</text>
<line x1="72.50" y1="319.30" x2="74.50" y2="319.30" stroke="#777" stroke-width="0.7"/>
<text x="69.90" y="321.70" font-size="6.8" text-anchor="end">10</text>
<line x1="72.50" y1="307.80" x2="74.50" y2="307.80" stroke="#777" stroke-width="0.7"/>
<text x="69.90" y="310.20" font-size="6.8" text-anchor="end">12</text>
<line x1="78.80" y1="335.00" x2="78.80" y2="336.60" stroke="#777" stroke-width="0.7"/>
<text x="78.80" y="347.60" font-size="6.8" text-anchor="middle">0</text>
<line x1="89.25" y1="335.00" x2="89.25" y2="336.60" stroke="#777" stroke-width="0.7"/>
<line x1="99.70" y1="335.00" x2="99.70" y2="336.60" stroke="#777" stroke-width="0.7"/>
<text x="99.70" y="347.60" font-size="6.8" text-anchor="middle">1</text>
<line x1="110.15" y1="335.00" x2="110.15" y2="336.60" stroke="#777" stroke-width="0.7"/>
<line x1="120.60" y1="335.00" x2="120.60" y2="336.60" stroke="#777" stroke-width="0.7"/>
<text x="120.60" y="347.60" font-size="6.8" text-anchor="middle">2</text>
<line x1="131.05" y1="335.00" x2="131.05" y2="336.60" stroke="#777" stroke-width="0.7"/>
<line x1="141.50" y1="335.00" x2="141.50" y2="336.60" stroke="#777" stroke-width="0.7"/>
<text x="141.50" y="347.60" font-size="6.8" text-anchor="middle">3</text>
<line x1="151.95" y1="335.00" x2="151.95" y2="336.60" stroke="#777" stroke-width="0.7"/>
<line x1="162.40" y1="335.00" x2="162.40" y2="336.60" stroke="#777" stroke-width="0.7"/>
<text x="162.40" y="347.60" font-size="6.8" text-anchor="middle">4</text>
<line x1="172.85" y1="335.00" x2="172.85" y2="336.60" stroke="#777" stroke-width="0.7"/>
<line x1="183.30" y1="335.00" x2="183.30" y2="336.60" stroke="#777" stroke-width="0.7"/>
<text x="183.30" y="347.60" font-size="6.8" text-anchor="middle">5</text>
<path d="M78.8,313.2 84.3,318.7 94.7,318.7 105.3,320.1 115.7,320.8 126.1,321.9 136.5,324.3 146.5,325.7 157.8,327.1 168.2,328.6 178.6,329.7" stroke="#555" stroke-width="0.7" fill="none" stroke-linejoin="round"/>
<circle cx="78.80" cy="313.20" r="1.8" fill="#000"/>
<circle cx="84.30" cy="318.70" r="1.8" fill="#000"/>
<circle cx="94.70" cy="318.70" r="1.8" fill="#000"/>
<circle cx="105.30" cy="320.10" r="1.8" fill="#000"/>
<circle cx="115.70" cy="320.80" r="1.8" fill="#000"/>
<circle cx="126.10" cy="321.90" r="1.8" fill="#000"/>
<circle cx="136.50" cy="324.30" r="1.8" fill="#000"/>
<circle cx="146.50" cy="325.70" r="1.8" fill="#000"/>
<circle cx="157.80" cy="327.10" r="1.8" fill="#000"/>
<circle cx="168.20" cy="328.60" r="1.8" fill="#000"/>
<circle cx="178.60" cy="329.70" r="1.8" fill="#000"/>
<text x="131.60" y="356.00" font-size="7.9" text-anchor="middle">Time (min)</text>
<text transform="translate(58.00,320.00) rotate(-90)" font-size="7.8" text-anchor="middle">SD of MCV</text>
<rect x="295.60" y="235.70" width="220.70" height="159.90" stroke="#8c8c8c" stroke-width="1" fill="none"/>
<line x1="292.80" y1="395.60" x2="295.60" y2="395.60" stroke="#777" stroke-width="0.8"/>
<text x="287.90" y="399.20" font-size="10" text-anchor="end">30</text>
<line x1="292.80" y1="366.62" x2="295.60" y2="366.62" stroke="#777" stroke-width="0.8"/>
<text x="287.90" y="370.22" font-size="10" text-anchor="end">40</text>
<line x1="292.80" y1="337.64" x2="295.60" y2="337.64" stroke="#777" stroke-width="0.8"/>
<text x="287.90" y="341.24" font-size="10" text-anchor="end">50</text>
<line x1="292.80" y1="308.66" x2="295.60" y2="308.66" stroke="#777" stroke-width="0.8"/>
<text x="287.90" y="312.26" font-size="10" text-anchor="end">60</text>
<line x1="292.80" y1="279.68" x2="295.60" y2="279.68" stroke="#777" stroke-width="0.8"/>
<text x="287.90" y="283.28" font-size="10" text-anchor="end">70</text>
<line x1="292.80" y1="250.70" x2="295.60" y2="250.70" stroke="#777" stroke-width="0.8"/>
<text x="287.90" y="254.30" font-size="10" text-anchor="end">80</text>
<line x1="295.35" y1="395.60" x2="295.35" y2="397.80" stroke="#777" stroke-width="0.8"/>
<line x1="315.40" y1="395.60" x2="315.40" y2="397.80" stroke="#777" stroke-width="0.8"/>
<text x="315.40" y="411.60" font-size="10" text-anchor="middle">0</text>
<line x1="335.45" y1="395.60" x2="335.45" y2="397.80" stroke="#777" stroke-width="0.8"/>
<line x1="355.50" y1="395.60" x2="355.50" y2="397.80" stroke="#777" stroke-width="0.8"/>
<text x="355.50" y="411.60" font-size="10" text-anchor="middle">1</text>
<line x1="375.55" y1="395.60" x2="375.55" y2="397.80" stroke="#777" stroke-width="0.8"/>
<line x1="395.60" y1="395.60" x2="395.60" y2="397.80" stroke="#777" stroke-width="0.8"/>
<text x="395.60" y="411.60" font-size="10" text-anchor="middle">2</text>
<line x1="415.65" y1="395.60" x2="415.65" y2="397.80" stroke="#777" stroke-width="0.8"/>
<line x1="435.70" y1="395.60" x2="435.70" y2="397.80" stroke="#777" stroke-width="0.8"/>
<text x="435.70" y="411.60" font-size="10" text-anchor="middle">3</text>
<line x1="455.75" y1="395.60" x2="455.75" y2="397.80" stroke="#777" stroke-width="0.8"/>
<line x1="475.80" y1="395.60" x2="475.80" y2="397.80" stroke="#777" stroke-width="0.8"/>
<text x="475.80" y="411.60" font-size="10" text-anchor="middle">4</text>
<line x1="495.85" y1="395.60" x2="495.85" y2="397.80" stroke="#777" stroke-width="0.8"/>
<line x1="515.90" y1="395.60" x2="515.90" y2="397.80" stroke="#777" stroke-width="0.8"/>
<text x="515.90" y="411.60" font-size="10" text-anchor="middle">5</text>
<path d="M315.2,253.1 325.4,261.6 345.5,270.0 366.2,276.4 386.1,281.5 406.3,285.8 425.4,288.8 445.7,291.1 466.2,292.0 486.1,292.0 506.2,291.1" stroke="#555" stroke-width="0.8" fill="none" stroke-linejoin="round"/>
<path d="M315.2,381.4 325.5,377.4 345.8,375.7 366.3,372.9 386.4,370.4 406.5,367.7 425.8,363.5 445.7,363.5 466.5,360.3 486.5,360.8 506.6,363.1" stroke="#555" stroke-width="0.8" fill="none" stroke-linejoin="round"/>
<circle cx="315.20" cy="253.10" r="3.6" fill="#000"/>
<circle cx="325.40" cy="261.60" r="3.6" fill="#000"/>
<circle cx="345.50" cy="270.00" r="3.6" fill="#000"/>
<circle cx="366.20" cy="276.40" r="3.6" fill="#000"/>
<circle cx="386.10" cy="281.50" r="3.6" fill="#000"/>
<circle cx="406.30" cy="285.80" r="3.6" fill="#000"/>
<circle cx="425.40" cy="288.80" r="3.6" fill="#000"/>
<circle cx="445.70" cy="291.10" r="3.6" fill="#000"/>
<circle cx="466.20" cy="292.00" r="3.6" fill="#000"/>
<circle cx="486.10" cy="292.00" r="3.6" fill="#000"/>
<circle cx="506.20" cy="291.10" r="3.6" fill="#000"/>
<circle cx="315.20" cy="381.40" r="3.3" fill="#fff" stroke="#333" stroke-width="0.85"/>
<circle cx="325.50" cy="377.40" r="3.3" fill="#fff" stroke="#333" stroke-width="0.85"/>
<circle cx="345.80" cy="375.70" r="3.3" fill="#fff" stroke="#333" stroke-width="0.85"/>
<circle cx="366.30" cy="372.90" r="3.3" fill="#fff" stroke="#333" stroke-width="0.85"/>
<circle cx="386.40" cy="370.40" r="3.3" fill="#fff" stroke="#333" stroke-width="0.85"/>
<circle cx="406.50" cy="367.70" r="3.3" fill="#fff" stroke="#333" stroke-width="0.85"/>
<circle cx="425.80" cy="363.50" r="3.3" fill="#fff" stroke="#333" stroke-width="0.85"/>
<circle cx="445.70" cy="363.50" r="3.3" fill="#fff" stroke="#333" stroke-width="0.85"/>
<circle cx="466.50" cy="360.30" r="3.3" fill="#fff" stroke="#333" stroke-width="0.85"/>
<circle cx="486.50" cy="360.80" r="3.3" fill="#fff" stroke="#333" stroke-width="0.85"/>
<circle cx="506.60" cy="363.10" r="3.3" fill="#fff" stroke="#333" stroke-width="0.85"/>
<text x="298.00" y="249.00" font-size="12.5" text-anchor="start" font-weight="bold">ii</text>
<text x="511.00" y="389.60" font-size="14" text-anchor="end">Vanadate</text>
<rect x="442.00" y="237.00" width="69.00" height="29.50" stroke="#9a9a9a" stroke-width="1" fill="none"/>
<line x1="442.00" y1="267.10" x2="511.50" y2="267.10" stroke="#b4b4b4" stroke-width="0.9"/>
<circle cx="454.90" cy="246.70" r="3.4" fill="#000"/>
<circle cx="454.90" cy="256.30" r="3.2" fill="#fff" stroke="#333" stroke-width="0.8"/>
<text x="465.80" y="249.30" font-size="6.9" text-anchor="start">MCV (fL)</text>
<text x="465.80" y="258.70" font-size="6.9" text-anchor="start">MCHC (g/dL)</text>
<rect x="329.70" y="307.60" width="112.60" height="31.20" stroke="#9a9a9a" stroke-width="1" fill="none"/>
<line x1="327.70" y1="333.66" x2="329.70" y2="333.66" stroke="#777" stroke-width="0.7"/>
<text x="325.10" y="336.06" font-size="6.8" text-anchor="end">8</text>
<line x1="327.70" y1="322.30" x2="329.70" y2="322.30" stroke="#777" stroke-width="0.7"/>
<text x="325.10" y="324.70" font-size="6.8" text-anchor="end">10</text>
<line x1="327.70" y1="310.94" x2="329.70" y2="310.94" stroke="#777" stroke-width="0.7"/>
<text x="325.10" y="313.34" font-size="6.8" text-anchor="end">12</text>
<line x1="334.20" y1="338.80" x2="334.20" y2="340.40" stroke="#777" stroke-width="0.7"/>
<text x="334.20" y="349.40" font-size="6.8" text-anchor="middle">0</text>
<line x1="344.50" y1="338.80" x2="344.50" y2="340.40" stroke="#777" stroke-width="0.7"/>
<line x1="354.80" y1="338.80" x2="354.80" y2="340.40" stroke="#777" stroke-width="0.7"/>
<text x="354.80" y="349.40" font-size="6.8" text-anchor="middle">1</text>
<line x1="365.10" y1="338.80" x2="365.10" y2="340.40" stroke="#777" stroke-width="0.7"/>
<line x1="375.40" y1="338.80" x2="375.40" y2="340.40" stroke="#777" stroke-width="0.7"/>
<text x="375.40" y="349.40" font-size="6.8" text-anchor="middle">2</text>
<line x1="385.70" y1="338.80" x2="385.70" y2="340.40" stroke="#777" stroke-width="0.7"/>
<line x1="396.00" y1="338.80" x2="396.00" y2="340.40" stroke="#777" stroke-width="0.7"/>
<text x="396.00" y="349.40" font-size="6.8" text-anchor="middle">3</text>
<line x1="406.30" y1="338.80" x2="406.30" y2="340.40" stroke="#777" stroke-width="0.7"/>
<line x1="416.60" y1="338.80" x2="416.60" y2="340.40" stroke="#777" stroke-width="0.7"/>
<text x="416.60" y="349.40" font-size="6.8" text-anchor="middle">4</text>
<line x1="426.90" y1="338.80" x2="426.90" y2="340.40" stroke="#777" stroke-width="0.7"/>
<line x1="437.20" y1="338.80" x2="437.20" y2="340.40" stroke="#777" stroke-width="0.7"/>
<text x="437.20" y="349.40" font-size="6.8" text-anchor="middle">5</text>
<path d="M334.2,316.2 339.5,322.0 349.5,322.3 360.3,323.5 370.6,325.2 381.1,325.6 391.0,327.4 401.3,328.5 411.9,329.4 422.5,329.7 432.9,330.4" stroke="#555" stroke-width="0.7" fill="none" stroke-linejoin="round"/>
<circle cx="334.20" cy="316.20" r="1.8" fill="#000"/>
<circle cx="339.50" cy="322.00" r="1.8" fill="#000"/>
<circle cx="349.50" cy="322.30" r="1.8" fill="#000"/>
<circle cx="360.30" cy="323.50" r="1.8" fill="#000"/>
<circle cx="370.60" cy="325.20" r="1.8" fill="#000"/>
<circle cx="381.10" cy="325.60" r="1.8" fill="#000"/>
<circle cx="391.00" cy="327.40" r="1.8" fill="#000"/>
<circle cx="401.30" cy="328.50" r="1.8" fill="#000"/>
<circle cx="411.90" cy="329.40" r="1.8" fill="#000"/>
<circle cx="422.50" cy="329.70" r="1.8" fill="#000"/>
<circle cx="432.90" cy="330.40" r="1.8" fill="#000"/>
<text x="386.20" y="358.60" font-size="7.9" text-anchor="middle">Time (min)</text>
<text transform="translate(314.00,323.00) rotate(-90)" font-size="7.8" text-anchor="middle">SD of MCV</text>
<text transform="translate(12.3,315) rotate(-90)" font-size="10.15" text-anchor="middle">MCV (fL) and MCHC (g/dL)</text>
<text x="279.50" y="428.00" font-size="14.1" text-anchor="middle">Time (min)</text>
</svg></body></html>
